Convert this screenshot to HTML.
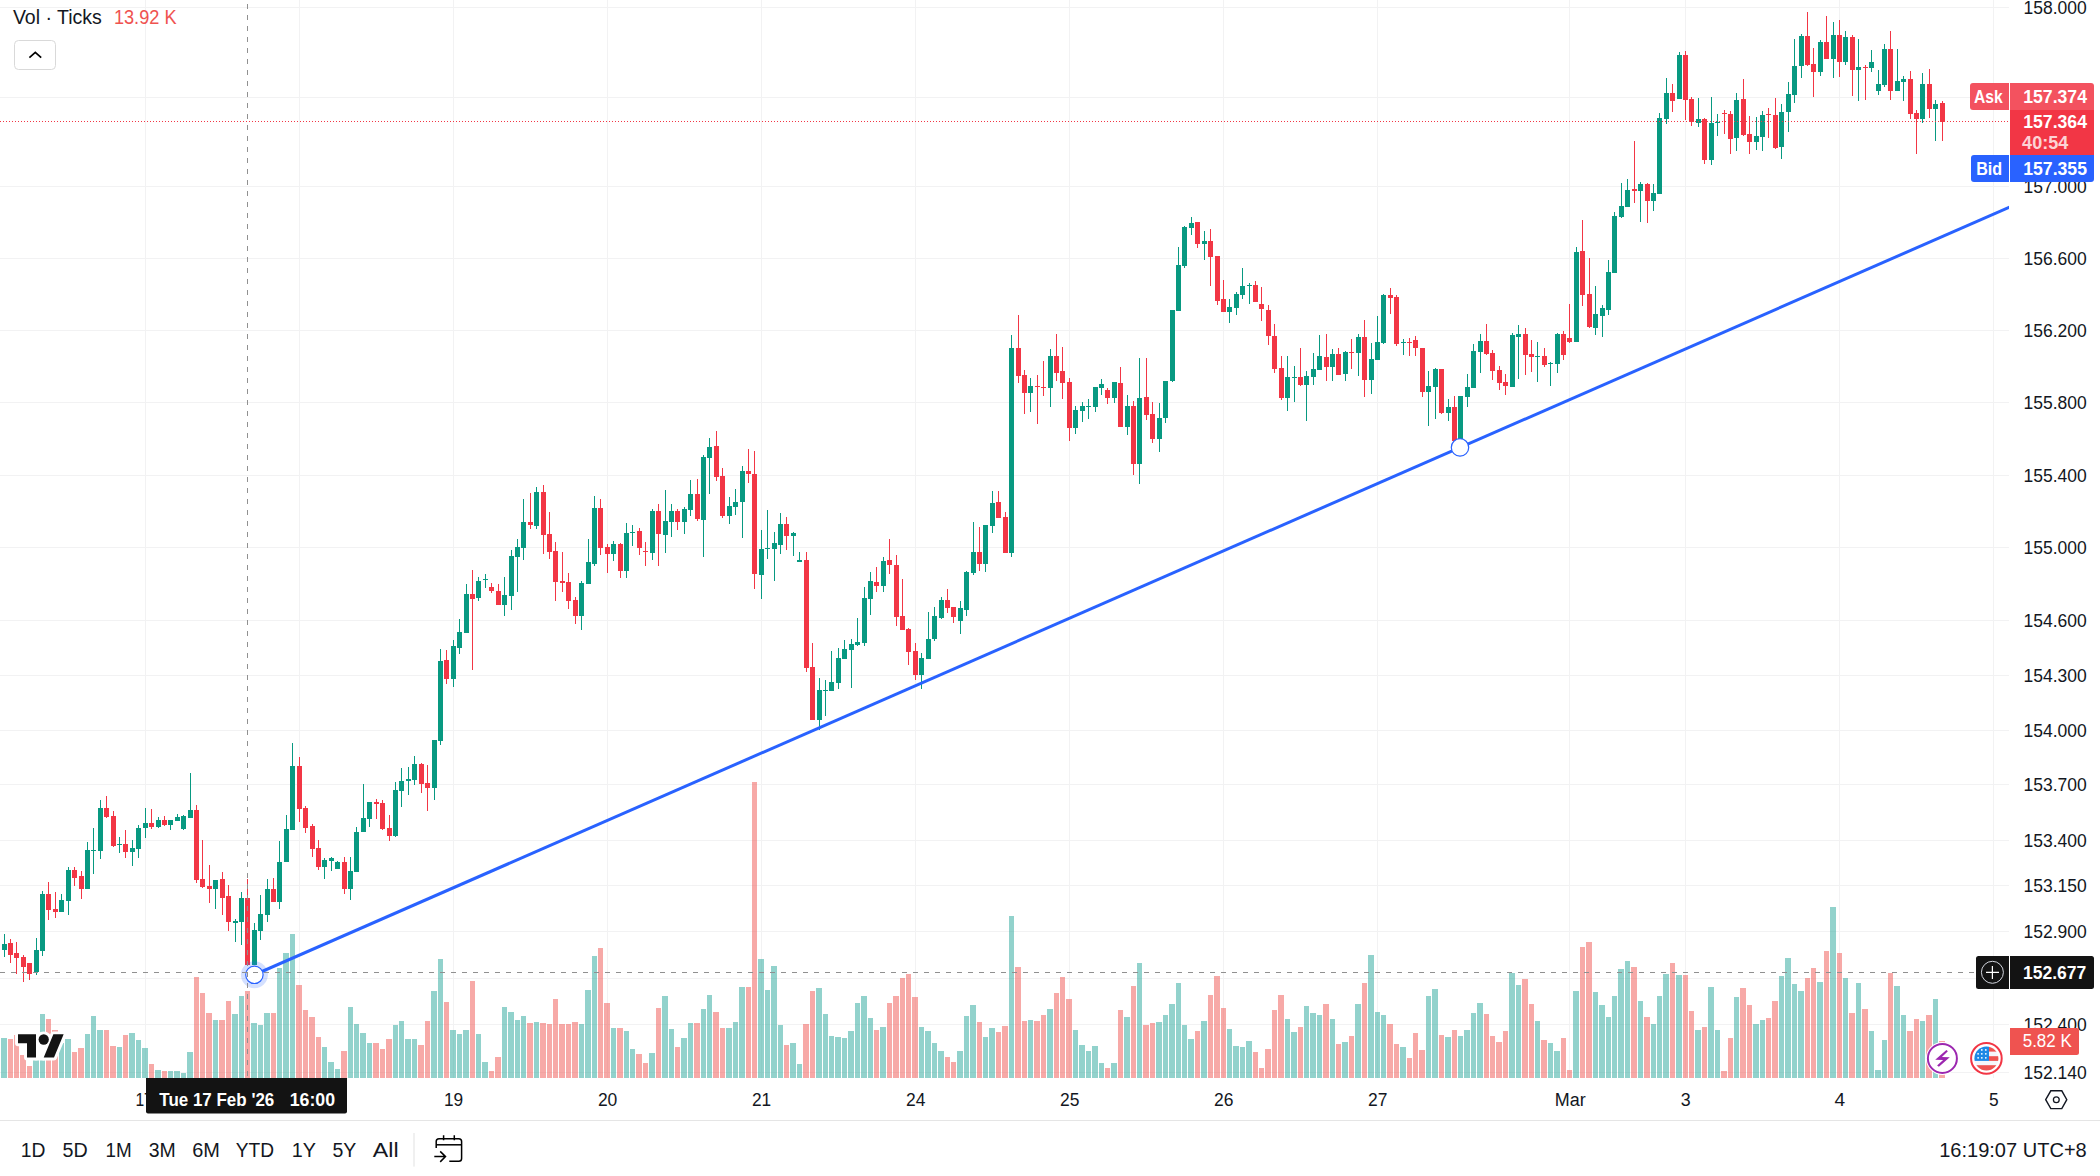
<!DOCTYPE html>
<html><head><meta charset="utf-8"><style>
html,body{margin:0;padding:0;background:#fff;}
body{width:2100px;height:1176px;overflow:hidden;position:relative;font-family:"Liberation Sans",sans-serif;}
</style></head><body>
<svg width="2100" height="1176" viewBox="0 0 2100 1176" style="position:absolute;left:0;top:0">
<g stroke="#f2f2f3" stroke-width="1" shape-rendering="crispEdges">
<line x1="0" y1="7.5" x2="2009" y2="7.5"/>
<line x1="0" y1="97.5" x2="2009" y2="97.5"/>
<line x1="0" y1="186.5" x2="2009" y2="186.5"/>
<line x1="0" y1="258.5" x2="2009" y2="258.5"/>
<line x1="0" y1="330.5" x2="2009" y2="330.5"/>
<line x1="0" y1="402.5" x2="2009" y2="402.5"/>
<line x1="0" y1="475.5" x2="2009" y2="475.5"/>
<line x1="0" y1="547.5" x2="2009" y2="547.5"/>
<line x1="0" y1="620.5" x2="2009" y2="620.5"/>
<line x1="0" y1="675.5" x2="2009" y2="675.5"/>
<line x1="0" y1="730.5" x2="2009" y2="730.5"/>
<line x1="0" y1="784.5" x2="2009" y2="784.5"/>
<line x1="0" y1="840.5" x2="2009" y2="840.5"/>
<line x1="0" y1="885.5" x2="2009" y2="885.5"/>
<line x1="0" y1="931.5" x2="2009" y2="931.5"/>
<line x1="0" y1="978.5" x2="2009" y2="978.5"/>
<line x1="0" y1="1024.5" x2="2009" y2="1024.5"/>
<line x1="0" y1="1072.5" x2="2009" y2="1072.5"/>
<line x1="145.5" y1="0" x2="145.5" y2="1078"/>
<line x1="299.5" y1="0" x2="299.5" y2="1078"/>
<line x1="453.5" y1="0" x2="453.5" y2="1078"/>
<line x1="607.5" y1="0" x2="607.5" y2="1078"/>
<line x1="761.5" y1="0" x2="761.5" y2="1078"/>
<line x1="915.5" y1="0" x2="915.5" y2="1078"/>
<line x1="1069.5" y1="0" x2="1069.5" y2="1078"/>
<line x1="1223.5" y1="0" x2="1223.5" y2="1078"/>
<line x1="1377.5" y1="0" x2="1377.5" y2="1078"/>
<line x1="1569.5" y1="0" x2="1569.5" y2="1078"/>
<line x1="1685.5" y1="0" x2="1685.5" y2="1078"/>
<line x1="1839.5" y1="0" x2="1839.5" y2="1078"/>
<line x1="1993.5" y1="0" x2="1993.5" y2="1078"/>
</g>
<g shape-rendering="crispEdges">
<rect x="1" y="1038" width="6" height="40" fill="rgba(38,166,154,0.5)"/>
<rect x="8" y="1039" width="5" height="39" fill="rgba(239,83,80,0.5)"/>
<rect x="14" y="1035" width="5" height="43" fill="rgba(239,83,80,0.5)"/>
<rect x="20" y="1055" width="6" height="23" fill="rgba(239,83,80,0.5)"/>
<rect x="27" y="1066" width="5" height="12" fill="rgba(239,83,80,0.5)"/>
<rect x="33" y="1060" width="6" height="18" fill="rgba(38,166,154,0.5)"/>
<rect x="40" y="1014" width="5" height="64" fill="rgba(38,166,154,0.5)"/>
<rect x="46" y="1019" width="5" height="59" fill="rgba(239,83,80,0.5)"/>
<rect x="52" y="1030" width="6" height="48" fill="rgba(239,83,80,0.5)"/>
<rect x="59" y="1043" width="5" height="35" fill="rgba(38,166,154,0.5)"/>
<rect x="65" y="1039" width="6" height="39" fill="rgba(38,166,154,0.5)"/>
<rect x="72" y="1052" width="5" height="26" fill="rgba(239,83,80,0.5)"/>
<rect x="78" y="1048" width="6" height="30" fill="rgba(239,83,80,0.5)"/>
<rect x="85" y="1034" width="5" height="44" fill="rgba(38,166,154,0.5)"/>
<rect x="91" y="1016" width="5" height="62" fill="rgba(38,166,154,0.5)"/>
<rect x="97" y="1030" width="6" height="48" fill="rgba(38,166,154,0.5)"/>
<rect x="104" y="1030" width="5" height="48" fill="rgba(239,83,80,0.5)"/>
<rect x="110" y="1046" width="6" height="32" fill="rgba(239,83,80,0.5)"/>
<rect x="117" y="1047" width="5" height="31" fill="rgba(38,166,154,0.5)"/>
<rect x="123" y="1035" width="5" height="43" fill="rgba(239,83,80,0.5)"/>
<rect x="129" y="1033" width="6" height="45" fill="rgba(38,166,154,0.5)"/>
<rect x="136" y="1040" width="5" height="38" fill="rgba(38,166,154,0.5)"/>
<rect x="142" y="1048" width="6" height="30" fill="rgba(38,166,154,0.5)"/>
<rect x="149" y="1064" width="5" height="14" fill="rgba(239,83,80,0.5)"/>
<rect x="155" y="1070" width="6" height="8" fill="rgba(38,166,154,0.5)"/>
<rect x="162" y="1071" width="5" height="7" fill="rgba(239,83,80,0.5)"/>
<rect x="168" y="1071" width="5" height="7" fill="rgba(38,166,154,0.5)"/>
<rect x="174" y="1071" width="6" height="7" fill="rgba(38,166,154,0.5)"/>
<rect x="181" y="1073" width="5" height="5" fill="rgba(38,166,154,0.5)"/>
<rect x="187" y="1052" width="6" height="26" fill="rgba(38,166,154,0.5)"/>
<rect x="194" y="977" width="5" height="101" fill="rgba(239,83,80,0.5)"/>
<rect x="200" y="993" width="5" height="85" fill="rgba(239,83,80,0.5)"/>
<rect x="206" y="1013" width="6" height="65" fill="rgba(239,83,80,0.5)"/>
<rect x="213" y="1020" width="5" height="58" fill="rgba(38,166,154,0.5)"/>
<rect x="219" y="1020" width="6" height="58" fill="rgba(239,83,80,0.5)"/>
<rect x="226" y="1001" width="5" height="77" fill="rgba(239,83,80,0.5)"/>
<rect x="232" y="1014" width="6" height="64" fill="rgba(38,166,154,0.5)"/>
<rect x="239" y="996" width="5" height="82" fill="rgba(38,166,154,0.5)"/>
<rect x="245" y="991" width="5" height="87" fill="rgba(239,83,80,0.5)"/>
<rect x="251" y="1023" width="6" height="55" fill="rgba(38,166,154,0.5)"/>
<rect x="258" y="1025" width="5" height="53" fill="rgba(38,166,154,0.5)"/>
<rect x="264" y="1013" width="6" height="65" fill="rgba(38,166,154,0.5)"/>
<rect x="271" y="1013" width="5" height="65" fill="rgba(239,83,80,0.5)"/>
<rect x="277" y="968" width="5" height="110" fill="rgba(38,166,154,0.5)"/>
<rect x="283" y="953" width="6" height="125" fill="rgba(38,166,154,0.5)"/>
<rect x="290" y="934" width="5" height="144" fill="rgba(38,166,154,0.5)"/>
<rect x="296" y="985" width="6" height="93" fill="rgba(239,83,80,0.5)"/>
<rect x="303" y="1010" width="5" height="68" fill="rgba(239,83,80,0.5)"/>
<rect x="309" y="1017" width="6" height="61" fill="rgba(239,83,80,0.5)"/>
<rect x="316" y="1037" width="5" height="41" fill="rgba(239,83,80,0.5)"/>
<rect x="322" y="1047" width="5" height="31" fill="rgba(38,166,154,0.5)"/>
<rect x="328" y="1062" width="6" height="16" fill="rgba(38,166,154,0.5)"/>
<rect x="335" y="1069" width="5" height="9" fill="rgba(38,166,154,0.5)"/>
<rect x="341" y="1051" width="6" height="27" fill="rgba(239,83,80,0.5)"/>
<rect x="348" y="1007" width="5" height="71" fill="rgba(38,166,154,0.5)"/>
<rect x="354" y="1024" width="5" height="54" fill="rgba(38,166,154,0.5)"/>
<rect x="360" y="1033" width="6" height="45" fill="rgba(38,166,154,0.5)"/>
<rect x="367" y="1043" width="5" height="35" fill="rgba(38,166,154,0.5)"/>
<rect x="373" y="1043" width="6" height="35" fill="rgba(239,83,80,0.5)"/>
<rect x="380" y="1049" width="5" height="29" fill="rgba(239,83,80,0.5)"/>
<rect x="386" y="1039" width="6" height="39" fill="rgba(239,83,80,0.5)"/>
<rect x="393" y="1025" width="5" height="53" fill="rgba(38,166,154,0.5)"/>
<rect x="399" y="1021" width="5" height="57" fill="rgba(38,166,154,0.5)"/>
<rect x="405" y="1039" width="6" height="39" fill="rgba(38,166,154,0.5)"/>
<rect x="412" y="1039" width="5" height="39" fill="rgba(38,166,154,0.5)"/>
<rect x="418" y="1045" width="6" height="33" fill="rgba(239,83,80,0.5)"/>
<rect x="425" y="1021" width="5" height="57" fill="rgba(239,83,80,0.5)"/>
<rect x="431" y="991" width="6" height="87" fill="rgba(38,166,154,0.5)"/>
<rect x="438" y="959" width="5" height="119" fill="rgba(38,166,154,0.5)"/>
<rect x="444" y="1002" width="5" height="76" fill="rgba(239,83,80,0.5)"/>
<rect x="450" y="1030" width="6" height="48" fill="rgba(38,166,154,0.5)"/>
<rect x="457" y="1034" width="5" height="44" fill="rgba(38,166,154,0.5)"/>
<rect x="463" y="1030" width="6" height="48" fill="rgba(38,166,154,0.5)"/>
<rect x="470" y="981" width="5" height="97" fill="rgba(239,83,80,0.5)"/>
<rect x="476" y="1034" width="5" height="44" fill="rgba(38,166,154,0.5)"/>
<rect x="482" y="1062" width="6" height="16" fill="rgba(38,166,154,0.5)"/>
<rect x="489" y="1071" width="5" height="7" fill="rgba(239,83,80,0.5)"/>
<rect x="495" y="1057" width="6" height="21" fill="rgba(239,83,80,0.5)"/>
<rect x="502" y="1007" width="5" height="71" fill="rgba(38,166,154,0.5)"/>
<rect x="508" y="1012" width="6" height="66" fill="rgba(38,166,154,0.5)"/>
<rect x="515" y="1020" width="5" height="58" fill="rgba(38,166,154,0.5)"/>
<rect x="521" y="1016" width="5" height="62" fill="rgba(38,166,154,0.5)"/>
<rect x="527" y="1023" width="6" height="55" fill="rgba(239,83,80,0.5)"/>
<rect x="534" y="1022" width="5" height="56" fill="rgba(38,166,154,0.5)"/>
<rect x="540" y="1023" width="6" height="55" fill="rgba(239,83,80,0.5)"/>
<rect x="547" y="1024" width="5" height="54" fill="rgba(239,83,80,0.5)"/>
<rect x="553" y="999" width="5" height="79" fill="rgba(239,83,80,0.5)"/>
<rect x="559" y="1024" width="6" height="54" fill="rgba(239,83,80,0.5)"/>
<rect x="566" y="1024" width="5" height="54" fill="rgba(239,83,80,0.5)"/>
<rect x="572" y="1022" width="6" height="56" fill="rgba(239,83,80,0.5)"/>
<rect x="579" y="1024" width="5" height="54" fill="rgba(38,166,154,0.5)"/>
<rect x="585" y="990" width="6" height="88" fill="rgba(38,166,154,0.5)"/>
<rect x="592" y="956" width="5" height="122" fill="rgba(38,166,154,0.5)"/>
<rect x="598" y="948" width="5" height="130" fill="rgba(239,83,80,0.5)"/>
<rect x="604" y="1003" width="6" height="75" fill="rgba(239,83,80,0.5)"/>
<rect x="611" y="1028" width="5" height="50" fill="rgba(38,166,154,0.5)"/>
<rect x="617" y="1028" width="6" height="50" fill="rgba(239,83,80,0.5)"/>
<rect x="624" y="1031" width="5" height="47" fill="rgba(38,166,154,0.5)"/>
<rect x="630" y="1049" width="5" height="29" fill="rgba(38,166,154,0.5)"/>
<rect x="636" y="1054" width="6" height="24" fill="rgba(239,83,80,0.5)"/>
<rect x="643" y="1063" width="5" height="15" fill="rgba(239,83,80,0.5)"/>
<rect x="649" y="1053" width="6" height="25" fill="rgba(38,166,154,0.5)"/>
<rect x="656" y="1008" width="5" height="70" fill="rgba(239,83,80,0.5)"/>
<rect x="662" y="996" width="6" height="82" fill="rgba(38,166,154,0.5)"/>
<rect x="669" y="1029" width="5" height="49" fill="rgba(38,166,154,0.5)"/>
<rect x="675" y="1047" width="5" height="31" fill="rgba(239,83,80,0.5)"/>
<rect x="681" y="1038" width="6" height="40" fill="rgba(38,166,154,0.5)"/>
<rect x="688" y="1023" width="5" height="55" fill="rgba(38,166,154,0.5)"/>
<rect x="694" y="1023" width="6" height="55" fill="rgba(239,83,80,0.5)"/>
<rect x="701" y="1009" width="5" height="69" fill="rgba(38,166,154,0.5)"/>
<rect x="707" y="995" width="5" height="83" fill="rgba(38,166,154,0.5)"/>
<rect x="713" y="1012" width="6" height="66" fill="rgba(239,83,80,0.5)"/>
<rect x="720" y="1028" width="5" height="50" fill="rgba(239,83,80,0.5)"/>
<rect x="726" y="1028" width="6" height="50" fill="rgba(38,166,154,0.5)"/>
<rect x="733" y="1022" width="5" height="56" fill="rgba(38,166,154,0.5)"/>
<rect x="739" y="987" width="6" height="91" fill="rgba(38,166,154,0.5)"/>
<rect x="746" y="987" width="5" height="91" fill="rgba(239,83,80,0.5)"/>
<rect x="752" y="782" width="5" height="296" fill="rgba(239,83,80,0.5)"/>
<rect x="758" y="959" width="6" height="119" fill="rgba(38,166,154,0.5)"/>
<rect x="765" y="990" width="5" height="88" fill="rgba(38,166,154,0.5)"/>
<rect x="771" y="966" width="6" height="112" fill="rgba(38,166,154,0.5)"/>
<rect x="778" y="1025" width="5" height="53" fill="rgba(38,166,154,0.5)"/>
<rect x="784" y="1045" width="5" height="33" fill="rgba(239,83,80,0.5)"/>
<rect x="790" y="1043" width="6" height="35" fill="rgba(38,166,154,0.5)"/>
<rect x="797" y="1064" width="5" height="14" fill="rgba(38,166,154,0.5)"/>
<rect x="803" y="1024" width="6" height="54" fill="rgba(239,83,80,0.5)"/>
<rect x="810" y="991" width="5" height="87" fill="rgba(239,83,80,0.5)"/>
<rect x="816" y="988" width="6" height="90" fill="rgba(38,166,154,0.5)"/>
<rect x="823" y="1014" width="5" height="64" fill="rgba(38,166,154,0.5)"/>
<rect x="829" y="1036" width="5" height="42" fill="rgba(38,166,154,0.5)"/>
<rect x="835" y="1037" width="6" height="41" fill="rgba(38,166,154,0.5)"/>
<rect x="842" y="1038" width="5" height="40" fill="rgba(38,166,154,0.5)"/>
<rect x="848" y="1031" width="6" height="47" fill="rgba(38,166,154,0.5)"/>
<rect x="855" y="1003" width="5" height="75" fill="rgba(38,166,154,0.5)"/>
<rect x="861" y="996" width="6" height="82" fill="rgba(38,166,154,0.5)"/>
<rect x="868" y="1018" width="5" height="60" fill="rgba(38,166,154,0.5)"/>
<rect x="874" y="1030" width="5" height="48" fill="rgba(239,83,80,0.5)"/>
<rect x="880" y="1027" width="6" height="51" fill="rgba(38,166,154,0.5)"/>
<rect x="887" y="1003" width="5" height="75" fill="rgba(239,83,80,0.5)"/>
<rect x="893" y="996" width="6" height="82" fill="rgba(239,83,80,0.5)"/>
<rect x="900" y="978" width="5" height="100" fill="rgba(239,83,80,0.5)"/>
<rect x="906" y="974" width="5" height="104" fill="rgba(239,83,80,0.5)"/>
<rect x="912" y="997" width="6" height="81" fill="rgba(239,83,80,0.5)"/>
<rect x="919" y="1027" width="5" height="51" fill="rgba(38,166,154,0.5)"/>
<rect x="925" y="1031" width="6" height="47" fill="rgba(38,166,154,0.5)"/>
<rect x="932" y="1043" width="5" height="35" fill="rgba(38,166,154,0.5)"/>
<rect x="938" y="1051" width="6" height="27" fill="rgba(38,166,154,0.5)"/>
<rect x="945" y="1057" width="5" height="21" fill="rgba(239,83,80,0.5)"/>
<rect x="951" y="1062" width="5" height="16" fill="rgba(239,83,80,0.5)"/>
<rect x="957" y="1051" width="6" height="27" fill="rgba(38,166,154,0.5)"/>
<rect x="964" y="1016" width="5" height="62" fill="rgba(38,166,154,0.5)"/>
<rect x="970" y="1005" width="6" height="73" fill="rgba(38,166,154,0.5)"/>
<rect x="977" y="1022" width="5" height="56" fill="rgba(239,83,80,0.5)"/>
<rect x="983" y="1037" width="5" height="41" fill="rgba(38,166,154,0.5)"/>
<rect x="989" y="1028" width="6" height="50" fill="rgba(38,166,154,0.5)"/>
<rect x="996" y="1032" width="5" height="46" fill="rgba(239,83,80,0.5)"/>
<rect x="1002" y="1026" width="6" height="52" fill="rgba(239,83,80,0.5)"/>
<rect x="1009" y="916" width="5" height="162" fill="rgba(38,166,154,0.5)"/>
<rect x="1015" y="967" width="6" height="111" fill="rgba(239,83,80,0.5)"/>
<rect x="1022" y="1021" width="5" height="57" fill="rgba(239,83,80,0.5)"/>
<rect x="1028" y="1020" width="5" height="58" fill="rgba(38,166,154,0.5)"/>
<rect x="1034" y="1021" width="6" height="57" fill="rgba(239,83,80,0.5)"/>
<rect x="1041" y="1015" width="5" height="63" fill="rgba(239,83,80,0.5)"/>
<rect x="1047" y="1009" width="6" height="69" fill="rgba(38,166,154,0.5)"/>
<rect x="1054" y="993" width="5" height="85" fill="rgba(239,83,80,0.5)"/>
<rect x="1060" y="977" width="5" height="101" fill="rgba(239,83,80,0.5)"/>
<rect x="1066" y="999" width="6" height="79" fill="rgba(239,83,80,0.5)"/>
<rect x="1073" y="1030" width="5" height="48" fill="rgba(38,166,154,0.5)"/>
<rect x="1079" y="1045" width="6" height="33" fill="rgba(38,166,154,0.5)"/>
<rect x="1086" y="1051" width="5" height="27" fill="rgba(38,166,154,0.5)"/>
<rect x="1092" y="1046" width="6" height="32" fill="rgba(38,166,154,0.5)"/>
<rect x="1099" y="1063" width="5" height="15" fill="rgba(38,166,154,0.5)"/>
<rect x="1105" y="1068" width="5" height="10" fill="rgba(239,83,80,0.5)"/>
<rect x="1111" y="1063" width="6" height="15" fill="rgba(38,166,154,0.5)"/>
<rect x="1118" y="1010" width="5" height="68" fill="rgba(239,83,80,0.5)"/>
<rect x="1124" y="1017" width="6" height="61" fill="rgba(38,166,154,0.5)"/>
<rect x="1131" y="986" width="5" height="92" fill="rgba(239,83,80,0.5)"/>
<rect x="1137" y="963" width="5" height="115" fill="rgba(38,166,154,0.5)"/>
<rect x="1143" y="1025" width="6" height="53" fill="rgba(239,83,80,0.5)"/>
<rect x="1150" y="1023" width="5" height="55" fill="rgba(239,83,80,0.5)"/>
<rect x="1156" y="1022" width="6" height="56" fill="rgba(38,166,154,0.5)"/>
<rect x="1163" y="1015" width="5" height="63" fill="rgba(38,166,154,0.5)"/>
<rect x="1169" y="1004" width="6" height="74" fill="rgba(38,166,154,0.5)"/>
<rect x="1176" y="983" width="5" height="95" fill="rgba(38,166,154,0.5)"/>
<rect x="1182" y="1025" width="5" height="53" fill="rgba(38,166,154,0.5)"/>
<rect x="1188" y="1039" width="6" height="39" fill="rgba(38,166,154,0.5)"/>
<rect x="1195" y="1031" width="5" height="47" fill="rgba(239,83,80,0.5)"/>
<rect x="1201" y="1021" width="6" height="57" fill="rgba(38,166,154,0.5)"/>
<rect x="1208" y="995" width="5" height="83" fill="rgba(239,83,80,0.5)"/>
<rect x="1214" y="976" width="6" height="102" fill="rgba(239,83,80,0.5)"/>
<rect x="1221" y="1008" width="5" height="70" fill="rgba(239,83,80,0.5)"/>
<rect x="1227" y="1029" width="5" height="49" fill="rgba(38,166,154,0.5)"/>
<rect x="1233" y="1046" width="6" height="32" fill="rgba(38,166,154,0.5)"/>
<rect x="1240" y="1047" width="5" height="31" fill="rgba(38,166,154,0.5)"/>
<rect x="1246" y="1041" width="6" height="37" fill="rgba(38,166,154,0.5)"/>
<rect x="1253" y="1052" width="5" height="26" fill="rgba(239,83,80,0.5)"/>
<rect x="1259" y="1068" width="5" height="10" fill="rgba(239,83,80,0.5)"/>
<rect x="1265" y="1049" width="6" height="29" fill="rgba(239,83,80,0.5)"/>
<rect x="1272" y="1010" width="5" height="68" fill="rgba(239,83,80,0.5)"/>
<rect x="1278" y="995" width="6" height="83" fill="rgba(239,83,80,0.5)"/>
<rect x="1285" y="1019" width="5" height="59" fill="rgba(38,166,154,0.5)"/>
<rect x="1291" y="1032" width="6" height="46" fill="rgba(38,166,154,0.5)"/>
<rect x="1298" y="1027" width="5" height="51" fill="rgba(239,83,80,0.5)"/>
<rect x="1304" y="1006" width="5" height="72" fill="rgba(38,166,154,0.5)"/>
<rect x="1310" y="1013" width="6" height="65" fill="rgba(38,166,154,0.5)"/>
<rect x="1317" y="1015" width="5" height="63" fill="rgba(38,166,154,0.5)"/>
<rect x="1323" y="1004" width="6" height="74" fill="rgba(239,83,80,0.5)"/>
<rect x="1330" y="1019" width="5" height="59" fill="rgba(38,166,154,0.5)"/>
<rect x="1336" y="1044" width="5" height="34" fill="rgba(239,83,80,0.5)"/>
<rect x="1342" y="1042" width="6" height="36" fill="rgba(38,166,154,0.5)"/>
<rect x="1349" y="1036" width="5" height="42" fill="rgba(239,83,80,0.5)"/>
<rect x="1355" y="1004" width="6" height="74" fill="rgba(38,166,154,0.5)"/>
<rect x="1362" y="983" width="5" height="95" fill="rgba(239,83,80,0.5)"/>
<rect x="1368" y="955" width="6" height="123" fill="rgba(38,166,154,0.5)"/>
<rect x="1375" y="1012" width="5" height="66" fill="rgba(38,166,154,0.5)"/>
<rect x="1381" y="1015" width="5" height="63" fill="rgba(38,166,154,0.5)"/>
<rect x="1387" y="1024" width="6" height="54" fill="rgba(239,83,80,0.5)"/>
<rect x="1394" y="1044" width="5" height="34" fill="rgba(239,83,80,0.5)"/>
<rect x="1400" y="1047" width="6" height="31" fill="rgba(38,166,154,0.5)"/>
<rect x="1407" y="1058" width="5" height="20" fill="rgba(239,83,80,0.5)"/>
<rect x="1413" y="1033" width="5" height="45" fill="rgba(239,83,80,0.5)"/>
<rect x="1419" y="1050" width="6" height="28" fill="rgba(239,83,80,0.5)"/>
<rect x="1426" y="996" width="5" height="82" fill="rgba(38,166,154,0.5)"/>
<rect x="1432" y="989" width="6" height="89" fill="rgba(38,166,154,0.5)"/>
<rect x="1439" y="1035" width="5" height="43" fill="rgba(239,83,80,0.5)"/>
<rect x="1445" y="1037" width="6" height="41" fill="rgba(38,166,154,0.5)"/>
<rect x="1452" y="1030" width="5" height="48" fill="rgba(239,83,80,0.5)"/>
<rect x="1458" y="1036" width="5" height="42" fill="rgba(38,166,154,0.5)"/>
<rect x="1464" y="1030" width="6" height="48" fill="rgba(38,166,154,0.5)"/>
<rect x="1471" y="1013" width="5" height="65" fill="rgba(38,166,154,0.5)"/>
<rect x="1477" y="1003" width="6" height="75" fill="rgba(38,166,154,0.5)"/>
<rect x="1484" y="1014" width="5" height="64" fill="rgba(239,83,80,0.5)"/>
<rect x="1490" y="1036" width="5" height="42" fill="rgba(239,83,80,0.5)"/>
<rect x="1496" y="1042" width="6" height="36" fill="rgba(239,83,80,0.5)"/>
<rect x="1503" y="1031" width="5" height="47" fill="rgba(239,83,80,0.5)"/>
<rect x="1509" y="973" width="6" height="105" fill="rgba(38,166,154,0.5)"/>
<rect x="1516" y="985" width="5" height="93" fill="rgba(38,166,154,0.5)"/>
<rect x="1522" y="979" width="6" height="99" fill="rgba(239,83,80,0.5)"/>
<rect x="1529" y="1004" width="5" height="74" fill="rgba(239,83,80,0.5)"/>
<rect x="1535" y="1021" width="5" height="57" fill="rgba(38,166,154,0.5)"/>
<rect x="1541" y="1040" width="6" height="38" fill="rgba(239,83,80,0.5)"/>
<rect x="1548" y="1043" width="5" height="35" fill="rgba(38,166,154,0.5)"/>
<rect x="1554" y="1051" width="6" height="27" fill="rgba(38,166,154,0.5)"/>
<rect x="1561" y="1038" width="5" height="40" fill="rgba(239,83,80,0.5)"/>
<rect x="1567" y="1070" width="5" height="8" fill="rgba(239,83,80,0.5)"/>
<rect x="1573" y="991" width="6" height="87" fill="rgba(38,166,154,0.5)"/>
<rect x="1580" y="947" width="5" height="131" fill="rgba(239,83,80,0.5)"/>
<rect x="1586" y="942" width="6" height="136" fill="rgba(239,83,80,0.5)"/>
<rect x="1593" y="992" width="5" height="86" fill="rgba(38,166,154,0.5)"/>
<rect x="1599" y="1005" width="6" height="73" fill="rgba(38,166,154,0.5)"/>
<rect x="1606" y="1017" width="5" height="61" fill="rgba(38,166,154,0.5)"/>
<rect x="1612" y="996" width="5" height="82" fill="rgba(38,166,154,0.5)"/>
<rect x="1618" y="969" width="6" height="109" fill="rgba(38,166,154,0.5)"/>
<rect x="1625" y="961" width="5" height="117" fill="rgba(38,166,154,0.5)"/>
<rect x="1631" y="967" width="6" height="111" fill="rgba(239,83,80,0.5)"/>
<rect x="1638" y="1001" width="5" height="77" fill="rgba(38,166,154,0.5)"/>
<rect x="1644" y="1017" width="6" height="61" fill="rgba(239,83,80,0.5)"/>
<rect x="1651" y="1024" width="5" height="54" fill="rgba(38,166,154,0.5)"/>
<rect x="1657" y="996" width="5" height="82" fill="rgba(38,166,154,0.5)"/>
<rect x="1663" y="974" width="6" height="104" fill="rgba(38,166,154,0.5)"/>
<rect x="1670" y="963" width="5" height="115" fill="rgba(239,83,80,0.5)"/>
<rect x="1676" y="975" width="6" height="103" fill="rgba(38,166,154,0.5)"/>
<rect x="1683" y="975" width="5" height="103" fill="rgba(239,83,80,0.5)"/>
<rect x="1689" y="1011" width="5" height="67" fill="rgba(239,83,80,0.5)"/>
<rect x="1695" y="1030" width="6" height="48" fill="rgba(38,166,154,0.5)"/>
<rect x="1702" y="1027" width="5" height="51" fill="rgba(239,83,80,0.5)"/>
<rect x="1708" y="987" width="6" height="91" fill="rgba(38,166,154,0.5)"/>
<rect x="1715" y="1030" width="5" height="48" fill="rgba(38,166,154,0.5)"/>
<rect x="1721" y="1071" width="6" height="7" fill="rgba(239,83,80,0.5)"/>
<rect x="1728" y="1038" width="5" height="40" fill="rgba(239,83,80,0.5)"/>
<rect x="1734" y="997" width="5" height="81" fill="rgba(38,166,154,0.5)"/>
<rect x="1740" y="988" width="6" height="90" fill="rgba(239,83,80,0.5)"/>
<rect x="1747" y="1005" width="5" height="73" fill="rgba(239,83,80,0.5)"/>
<rect x="1753" y="1024" width="6" height="54" fill="rgba(38,166,154,0.5)"/>
<rect x="1760" y="1020" width="5" height="58" fill="rgba(38,166,154,0.5)"/>
<rect x="1766" y="1018" width="5" height="60" fill="rgba(239,83,80,0.5)"/>
<rect x="1772" y="1001" width="6" height="77" fill="rgba(239,83,80,0.5)"/>
<rect x="1779" y="976" width="5" height="102" fill="rgba(38,166,154,0.5)"/>
<rect x="1785" y="958" width="6" height="120" fill="rgba(38,166,154,0.5)"/>
<rect x="1792" y="984" width="5" height="94" fill="rgba(38,166,154,0.5)"/>
<rect x="1798" y="991" width="6" height="87" fill="rgba(38,166,154,0.5)"/>
<rect x="1805" y="978" width="5" height="100" fill="rgba(239,83,80,0.5)"/>
<rect x="1811" y="968" width="5" height="110" fill="rgba(239,83,80,0.5)"/>
<rect x="1817" y="982" width="6" height="96" fill="rgba(38,166,154,0.5)"/>
<rect x="1824" y="951" width="5" height="127" fill="rgba(239,83,80,0.5)"/>
<rect x="1830" y="907" width="6" height="171" fill="rgba(38,166,154,0.5)"/>
<rect x="1837" y="953" width="5" height="125" fill="rgba(239,83,80,0.5)"/>
<rect x="1843" y="978" width="5" height="100" fill="rgba(38,166,154,0.5)"/>
<rect x="1849" y="1013" width="6" height="65" fill="rgba(239,83,80,0.5)"/>
<rect x="1856" y="983" width="5" height="95" fill="rgba(38,166,154,0.5)"/>
<rect x="1862" y="1009" width="6" height="69" fill="rgba(239,83,80,0.5)"/>
<rect x="1869" y="1031" width="5" height="47" fill="rgba(38,166,154,0.5)"/>
<rect x="1875" y="1070" width="6" height="8" fill="rgba(38,166,154,0.5)"/>
<rect x="1882" y="1040" width="5" height="38" fill="rgba(38,166,154,0.5)"/>
<rect x="1888" y="973" width="5" height="105" fill="rgba(239,83,80,0.5)"/>
<rect x="1894" y="986" width="6" height="92" fill="rgba(38,166,154,0.5)"/>
<rect x="1901" y="1015" width="5" height="63" fill="rgba(38,166,154,0.5)"/>
<rect x="1907" y="1031" width="6" height="47" fill="rgba(239,83,80,0.5)"/>
<rect x="1914" y="1019" width="5" height="59" fill="rgba(239,83,80,0.5)"/>
<rect x="1920" y="1021" width="5" height="57" fill="rgba(38,166,154,0.5)"/>
<rect x="1926" y="1015" width="6" height="63" fill="rgba(239,83,80,0.5)"/>
<rect x="1933" y="999" width="5" height="79" fill="rgba(38,166,154,0.5)"/>
<rect x="1939" y="1041" width="6" height="37" fill="rgba(239,83,80,0.5)"/>
</g>
<g shape-rendering="crispEdges">
<rect x="4" y="934" width="1" height="10" fill="#089981"/>
<rect x="4" y="950" width="1" height="7" fill="#089981"/>
<rect x="2" y="944" width="5" height="6" fill="#089981"/>
<rect x="10" y="939" width="1" height="4" fill="#f23645"/>
<rect x="10" y="955" width="1" height="8" fill="#f23645"/>
<rect x="8" y="943" width="5" height="12" fill="#f23645"/>
<rect x="16" y="942" width="1" height="11" fill="#f23645"/>
<rect x="16" y="958" width="1" height="16" fill="#f23645"/>
<rect x="14" y="953" width="5" height="5" fill="#f23645"/>
<rect x="23" y="955" width="1" height="2" fill="#f23645"/>
<rect x="23" y="967" width="1" height="15" fill="#f23645"/>
<rect x="21" y="957" width="5" height="10" fill="#f23645"/>
<rect x="29" y="974" width="1" height="6" fill="#f23645"/>
<rect x="27" y="963" width="5" height="11" fill="#f23645"/>
<rect x="36" y="938" width="1" height="12" fill="#089981"/>
<rect x="36" y="972" width="1" height="3" fill="#089981"/>
<rect x="34" y="950" width="5" height="22" fill="#089981"/>
<rect x="42" y="891" width="1" height="3" fill="#089981"/>
<rect x="42" y="951" width="1" height="5" fill="#089981"/>
<rect x="40" y="894" width="5" height="57" fill="#089981"/>
<rect x="48" y="882" width="1" height="12" fill="#f23645"/>
<rect x="48" y="910" width="1" height="10" fill="#f23645"/>
<rect x="46" y="894" width="5" height="16" fill="#f23645"/>
<rect x="55" y="892" width="1" height="17" fill="#f23645"/>
<rect x="55" y="912" width="1" height="6" fill="#f23645"/>
<rect x="53" y="909" width="5" height="3" fill="#f23645"/>
<rect x="61" y="894" width="1" height="6" fill="#089981"/>
<rect x="59" y="900" width="5" height="12" fill="#089981"/>
<rect x="68" y="867" width="1" height="3" fill="#089981"/>
<rect x="68" y="901" width="1" height="14" fill="#089981"/>
<rect x="66" y="870" width="5" height="31" fill="#089981"/>
<rect x="74" y="867" width="1" height="3" fill="#f23645"/>
<rect x="74" y="878" width="1" height="8" fill="#f23645"/>
<rect x="72" y="870" width="5" height="8" fill="#f23645"/>
<rect x="81" y="871" width="1" height="5" fill="#f23645"/>
<rect x="81" y="889" width="1" height="10" fill="#f23645"/>
<rect x="79" y="876" width="5" height="13" fill="#f23645"/>
<rect x="87" y="842" width="1" height="8" fill="#089981"/>
<rect x="85" y="850" width="5" height="39" fill="#089981"/>
<rect x="93" y="828" width="1" height="22" fill="#089981"/>
<rect x="93" y="851" width="1" height="23" fill="#089981"/>
<rect x="91" y="850" width="5" height="1" fill="#089981"/>
<rect x="100" y="800" width="1" height="8" fill="#089981"/>
<rect x="100" y="851" width="1" height="8" fill="#089981"/>
<rect x="98" y="808" width="5" height="43" fill="#089981"/>
<rect x="106" y="796" width="1" height="12" fill="#f23645"/>
<rect x="106" y="817" width="1" height="1" fill="#f23645"/>
<rect x="104" y="808" width="5" height="9" fill="#f23645"/>
<rect x="113" y="811" width="1" height="5" fill="#f23645"/>
<rect x="113" y="846" width="1" height="1" fill="#f23645"/>
<rect x="111" y="816" width="5" height="30" fill="#f23645"/>
<rect x="119" y="837" width="1" height="7" fill="#089981"/>
<rect x="119" y="845" width="1" height="8" fill="#089981"/>
<rect x="117" y="844" width="5" height="1" fill="#089981"/>
<rect x="125" y="830" width="1" height="14" fill="#f23645"/>
<rect x="125" y="852" width="1" height="6" fill="#f23645"/>
<rect x="123" y="844" width="5" height="8" fill="#f23645"/>
<rect x="132" y="840" width="1" height="8" fill="#089981"/>
<rect x="132" y="852" width="1" height="14" fill="#089981"/>
<rect x="130" y="848" width="5" height="4" fill="#089981"/>
<rect x="138" y="825" width="1" height="3" fill="#089981"/>
<rect x="138" y="849" width="1" height="9" fill="#089981"/>
<rect x="136" y="828" width="5" height="21" fill="#089981"/>
<rect x="145" y="808" width="1" height="15" fill="#089981"/>
<rect x="145" y="828" width="1" height="10" fill="#089981"/>
<rect x="143" y="823" width="5" height="5" fill="#089981"/>
<rect x="151" y="809" width="1" height="14" fill="#f23645"/>
<rect x="151" y="827" width="1" height="2" fill="#f23645"/>
<rect x="149" y="823" width="5" height="4" fill="#f23645"/>
<rect x="158" y="817" width="1" height="3" fill="#089981"/>
<rect x="158" y="827" width="1" height="1" fill="#089981"/>
<rect x="156" y="820" width="5" height="7" fill="#089981"/>
<rect x="164" y="816" width="1" height="4" fill="#f23645"/>
<rect x="164" y="825" width="1" height="1" fill="#f23645"/>
<rect x="162" y="820" width="5" height="5" fill="#f23645"/>
<rect x="170" y="825" width="1" height="5" fill="#089981"/>
<rect x="168" y="820" width="5" height="5" fill="#089981"/>
<rect x="177" y="814" width="1" height="3" fill="#089981"/>
<rect x="175" y="817" width="5" height="4" fill="#089981"/>
<rect x="183" y="815" width="1" height="1" fill="#089981"/>
<rect x="183" y="829" width="1" height="1" fill="#089981"/>
<rect x="181" y="816" width="5" height="13" fill="#089981"/>
<rect x="190" y="773" width="1" height="37" fill="#089981"/>
<rect x="188" y="810" width="5" height="8" fill="#089981"/>
<rect x="196" y="805" width="1" height="5" fill="#f23645"/>
<rect x="196" y="880" width="1" height="3" fill="#f23645"/>
<rect x="194" y="810" width="5" height="70" fill="#f23645"/>
<rect x="202" y="840" width="1" height="39" fill="#f23645"/>
<rect x="202" y="887" width="1" height="1" fill="#f23645"/>
<rect x="200" y="879" width="5" height="8" fill="#f23645"/>
<rect x="209" y="865" width="1" height="21" fill="#f23645"/>
<rect x="209" y="889" width="1" height="14" fill="#f23645"/>
<rect x="207" y="886" width="5" height="3" fill="#f23645"/>
<rect x="215" y="889" width="1" height="20" fill="#089981"/>
<rect x="213" y="880" width="5" height="9" fill="#089981"/>
<rect x="222" y="872" width="1" height="7" fill="#f23645"/>
<rect x="222" y="898" width="1" height="17" fill="#f23645"/>
<rect x="220" y="879" width="5" height="19" fill="#f23645"/>
<rect x="228" y="885" width="1" height="11" fill="#f23645"/>
<rect x="228" y="922" width="1" height="9" fill="#f23645"/>
<rect x="226" y="896" width="5" height="26" fill="#f23645"/>
<rect x="235" y="919" width="1" height="2" fill="#089981"/>
<rect x="235" y="923" width="1" height="19" fill="#089981"/>
<rect x="233" y="921" width="5" height="2" fill="#089981"/>
<rect x="241" y="892" width="1" height="6" fill="#089981"/>
<rect x="241" y="922" width="1" height="23" fill="#089981"/>
<rect x="239" y="898" width="5" height="24" fill="#089981"/>
<rect x="247" y="879" width="1" height="19" fill="#f23645"/>
<rect x="245" y="898" width="5" height="67" fill="#f23645"/>
<rect x="254" y="923" width="1" height="7" fill="#089981"/>
<rect x="252" y="930" width="5" height="35" fill="#089981"/>
<rect x="260" y="895" width="1" height="19" fill="#089981"/>
<rect x="260" y="931" width="1" height="9" fill="#089981"/>
<rect x="258" y="914" width="5" height="17" fill="#089981"/>
<rect x="267" y="879" width="1" height="10" fill="#089981"/>
<rect x="267" y="915" width="1" height="7" fill="#089981"/>
<rect x="265" y="889" width="5" height="26" fill="#089981"/>
<rect x="273" y="878" width="1" height="11" fill="#f23645"/>
<rect x="271" y="889" width="5" height="13" fill="#f23645"/>
<rect x="279" y="841" width="1" height="21" fill="#089981"/>
<rect x="279" y="902" width="1" height="7" fill="#089981"/>
<rect x="277" y="862" width="5" height="40" fill="#089981"/>
<rect x="286" y="815" width="1" height="14" fill="#089981"/>
<rect x="284" y="829" width="5" height="33" fill="#089981"/>
<rect x="292" y="743" width="1" height="23" fill="#089981"/>
<rect x="290" y="766" width="5" height="64" fill="#089981"/>
<rect x="299" y="757" width="1" height="9" fill="#f23645"/>
<rect x="299" y="809" width="1" height="13" fill="#f23645"/>
<rect x="297" y="766" width="5" height="43" fill="#f23645"/>
<rect x="305" y="806" width="1" height="2" fill="#f23645"/>
<rect x="305" y="828" width="1" height="5" fill="#f23645"/>
<rect x="303" y="808" width="5" height="20" fill="#f23645"/>
<rect x="312" y="824" width="1" height="2" fill="#f23645"/>
<rect x="312" y="849" width="1" height="8" fill="#f23645"/>
<rect x="310" y="826" width="5" height="23" fill="#f23645"/>
<rect x="318" y="840" width="1" height="8" fill="#f23645"/>
<rect x="318" y="867" width="1" height="3" fill="#f23645"/>
<rect x="316" y="848" width="5" height="19" fill="#f23645"/>
<rect x="324" y="858" width="1" height="2" fill="#089981"/>
<rect x="324" y="867" width="1" height="12" fill="#089981"/>
<rect x="322" y="860" width="5" height="7" fill="#089981"/>
<rect x="331" y="857" width="1" height="1" fill="#089981"/>
<rect x="331" y="861" width="1" height="10" fill="#089981"/>
<rect x="329" y="858" width="5" height="3" fill="#089981"/>
<rect x="337" y="861" width="1" height="1" fill="#089981"/>
<rect x="335" y="862" width="5" height="7" fill="#089981"/>
<rect x="344" y="857" width="1" height="5" fill="#f23645"/>
<rect x="344" y="889" width="1" height="5" fill="#f23645"/>
<rect x="342" y="862" width="5" height="27" fill="#f23645"/>
<rect x="350" y="857" width="1" height="14" fill="#089981"/>
<rect x="350" y="889" width="1" height="11" fill="#089981"/>
<rect x="348" y="871" width="5" height="18" fill="#089981"/>
<rect x="356" y="827" width="1" height="5" fill="#089981"/>
<rect x="354" y="832" width="5" height="40" fill="#089981"/>
<rect x="363" y="784" width="1" height="34" fill="#089981"/>
<rect x="361" y="818" width="5" height="14" fill="#089981"/>
<rect x="369" y="819" width="1" height="8" fill="#089981"/>
<rect x="367" y="802" width="5" height="17" fill="#089981"/>
<rect x="376" y="799" width="1" height="3" fill="#f23645"/>
<rect x="376" y="804" width="1" height="15" fill="#f23645"/>
<rect x="374" y="802" width="5" height="2" fill="#f23645"/>
<rect x="382" y="800" width="1" height="3" fill="#f23645"/>
<rect x="382" y="829" width="1" height="1" fill="#f23645"/>
<rect x="380" y="803" width="5" height="26" fill="#f23645"/>
<rect x="389" y="815" width="1" height="13" fill="#f23645"/>
<rect x="389" y="836" width="1" height="5" fill="#f23645"/>
<rect x="387" y="828" width="5" height="8" fill="#f23645"/>
<rect x="395" y="782" width="1" height="8" fill="#089981"/>
<rect x="395" y="836" width="1" height="1" fill="#089981"/>
<rect x="393" y="790" width="5" height="46" fill="#089981"/>
<rect x="401" y="768" width="1" height="13" fill="#089981"/>
<rect x="401" y="791" width="1" height="16" fill="#089981"/>
<rect x="399" y="781" width="5" height="10" fill="#089981"/>
<rect x="408" y="767" width="1" height="12" fill="#089981"/>
<rect x="408" y="781" width="1" height="14" fill="#089981"/>
<rect x="406" y="779" width="5" height="2" fill="#089981"/>
<rect x="414" y="756" width="1" height="8" fill="#089981"/>
<rect x="414" y="780" width="1" height="5" fill="#089981"/>
<rect x="412" y="764" width="5" height="16" fill="#089981"/>
<rect x="421" y="763" width="1" height="1" fill="#f23645"/>
<rect x="421" y="784" width="1" height="9" fill="#f23645"/>
<rect x="419" y="764" width="5" height="20" fill="#f23645"/>
<rect x="427" y="765" width="1" height="18" fill="#f23645"/>
<rect x="427" y="788" width="1" height="23" fill="#f23645"/>
<rect x="425" y="783" width="5" height="5" fill="#f23645"/>
<rect x="434" y="788" width="1" height="12" fill="#089981"/>
<rect x="432" y="740" width="5" height="48" fill="#089981"/>
<rect x="440" y="649" width="1" height="12" fill="#089981"/>
<rect x="440" y="741" width="1" height="4" fill="#089981"/>
<rect x="438" y="661" width="5" height="80" fill="#089981"/>
<rect x="446" y="650" width="1" height="10" fill="#f23645"/>
<rect x="446" y="679" width="1" height="5" fill="#f23645"/>
<rect x="444" y="660" width="5" height="19" fill="#f23645"/>
<rect x="453" y="640" width="1" height="6" fill="#089981"/>
<rect x="453" y="679" width="1" height="8" fill="#089981"/>
<rect x="451" y="646" width="5" height="33" fill="#089981"/>
<rect x="459" y="619" width="1" height="13" fill="#089981"/>
<rect x="459" y="648" width="1" height="6" fill="#089981"/>
<rect x="457" y="632" width="5" height="16" fill="#089981"/>
<rect x="466" y="584" width="1" height="10" fill="#089981"/>
<rect x="464" y="594" width="5" height="39" fill="#089981"/>
<rect x="472" y="570" width="1" height="24" fill="#f23645"/>
<rect x="472" y="599" width="1" height="71" fill="#f23645"/>
<rect x="470" y="594" width="5" height="5" fill="#f23645"/>
<rect x="478" y="577" width="1" height="4" fill="#089981"/>
<rect x="478" y="598" width="1" height="3" fill="#089981"/>
<rect x="476" y="581" width="5" height="17" fill="#089981"/>
<rect x="485" y="574" width="1" height="5" fill="#089981"/>
<rect x="485" y="580" width="1" height="8" fill="#089981"/>
<rect x="483" y="579" width="5" height="1" fill="#089981"/>
<rect x="491" y="583" width="1" height="4" fill="#f23645"/>
<rect x="491" y="591" width="1" height="2" fill="#f23645"/>
<rect x="489" y="587" width="5" height="4" fill="#f23645"/>
<rect x="498" y="584" width="1" height="7" fill="#f23645"/>
<rect x="496" y="591" width="5" height="14" fill="#f23645"/>
<rect x="504" y="577" width="1" height="18" fill="#089981"/>
<rect x="504" y="605" width="1" height="11" fill="#089981"/>
<rect x="502" y="595" width="5" height="10" fill="#089981"/>
<rect x="511" y="550" width="1" height="6" fill="#089981"/>
<rect x="511" y="596" width="1" height="14" fill="#089981"/>
<rect x="509" y="556" width="5" height="40" fill="#089981"/>
<rect x="517" y="539" width="1" height="8" fill="#089981"/>
<rect x="517" y="557" width="1" height="35" fill="#089981"/>
<rect x="515" y="547" width="5" height="10" fill="#089981"/>
<rect x="523" y="499" width="1" height="23" fill="#089981"/>
<rect x="523" y="548" width="1" height="12" fill="#089981"/>
<rect x="521" y="522" width="5" height="26" fill="#089981"/>
<rect x="530" y="493" width="1" height="29" fill="#f23645"/>
<rect x="530" y="525" width="1" height="4" fill="#f23645"/>
<rect x="528" y="522" width="5" height="3" fill="#f23645"/>
<rect x="536" y="487" width="1" height="5" fill="#089981"/>
<rect x="536" y="526" width="1" height="3" fill="#089981"/>
<rect x="534" y="492" width="5" height="34" fill="#089981"/>
<rect x="543" y="485" width="1" height="7" fill="#f23645"/>
<rect x="543" y="535" width="1" height="19" fill="#f23645"/>
<rect x="541" y="492" width="5" height="43" fill="#f23645"/>
<rect x="549" y="512" width="1" height="22" fill="#f23645"/>
<rect x="549" y="552" width="1" height="7" fill="#f23645"/>
<rect x="547" y="534" width="5" height="18" fill="#f23645"/>
<rect x="555" y="542" width="1" height="9" fill="#f23645"/>
<rect x="555" y="582" width="1" height="19" fill="#f23645"/>
<rect x="553" y="551" width="5" height="31" fill="#f23645"/>
<rect x="562" y="552" width="1" height="29" fill="#f23645"/>
<rect x="562" y="583" width="1" height="9" fill="#f23645"/>
<rect x="560" y="581" width="5" height="2" fill="#f23645"/>
<rect x="568" y="573" width="1" height="9" fill="#f23645"/>
<rect x="568" y="601" width="1" height="8" fill="#f23645"/>
<rect x="566" y="582" width="5" height="19" fill="#f23645"/>
<rect x="575" y="597" width="1" height="3" fill="#f23645"/>
<rect x="575" y="616" width="1" height="8" fill="#f23645"/>
<rect x="573" y="600" width="5" height="16" fill="#f23645"/>
<rect x="581" y="581" width="1" height="2" fill="#089981"/>
<rect x="581" y="616" width="1" height="14" fill="#089981"/>
<rect x="579" y="583" width="5" height="33" fill="#089981"/>
<rect x="588" y="539" width="1" height="23" fill="#089981"/>
<rect x="586" y="562" width="5" height="22" fill="#089981"/>
<rect x="594" y="496" width="1" height="12" fill="#089981"/>
<rect x="594" y="564" width="1" height="2" fill="#089981"/>
<rect x="592" y="508" width="5" height="56" fill="#089981"/>
<rect x="600" y="499" width="1" height="9" fill="#f23645"/>
<rect x="600" y="548" width="1" height="7" fill="#f23645"/>
<rect x="598" y="508" width="5" height="40" fill="#f23645"/>
<rect x="607" y="544" width="1" height="3" fill="#f23645"/>
<rect x="607" y="554" width="1" height="19" fill="#f23645"/>
<rect x="605" y="547" width="5" height="7" fill="#f23645"/>
<rect x="613" y="541" width="1" height="3" fill="#089981"/>
<rect x="613" y="554" width="1" height="7" fill="#089981"/>
<rect x="611" y="544" width="5" height="10" fill="#089981"/>
<rect x="620" y="543" width="1" height="1" fill="#f23645"/>
<rect x="620" y="571" width="1" height="7" fill="#f23645"/>
<rect x="618" y="544" width="5" height="27" fill="#f23645"/>
<rect x="626" y="523" width="1" height="10" fill="#089981"/>
<rect x="626" y="571" width="1" height="7" fill="#089981"/>
<rect x="624" y="533" width="5" height="38" fill="#089981"/>
<rect x="632" y="525" width="1" height="7" fill="#089981"/>
<rect x="632" y="533" width="1" height="13" fill="#089981"/>
<rect x="630" y="532" width="5" height="1" fill="#089981"/>
<rect x="639" y="528" width="1" height="3" fill="#f23645"/>
<rect x="639" y="548" width="1" height="7" fill="#f23645"/>
<rect x="637" y="531" width="5" height="17" fill="#f23645"/>
<rect x="645" y="542" width="1" height="9" fill="#f23645"/>
<rect x="645" y="552" width="1" height="14" fill="#f23645"/>
<rect x="643" y="551" width="5" height="1" fill="#f23645"/>
<rect x="652" y="509" width="1" height="2" fill="#089981"/>
<rect x="652" y="553" width="1" height="7" fill="#089981"/>
<rect x="650" y="511" width="5" height="42" fill="#089981"/>
<rect x="658" y="504" width="1" height="7" fill="#f23645"/>
<rect x="658" y="534" width="1" height="32" fill="#f23645"/>
<rect x="656" y="511" width="5" height="23" fill="#f23645"/>
<rect x="665" y="490" width="1" height="31" fill="#089981"/>
<rect x="665" y="535" width="1" height="18" fill="#089981"/>
<rect x="663" y="521" width="5" height="14" fill="#089981"/>
<rect x="671" y="504" width="1" height="7" fill="#089981"/>
<rect x="671" y="522" width="1" height="15" fill="#089981"/>
<rect x="669" y="511" width="5" height="11" fill="#089981"/>
<rect x="677" y="509" width="1" height="2" fill="#f23645"/>
<rect x="677" y="522" width="1" height="8" fill="#f23645"/>
<rect x="675" y="511" width="5" height="11" fill="#f23645"/>
<rect x="684" y="507" width="1" height="2" fill="#089981"/>
<rect x="684" y="522" width="1" height="12" fill="#089981"/>
<rect x="682" y="509" width="5" height="13" fill="#089981"/>
<rect x="690" y="480" width="1" height="14" fill="#089981"/>
<rect x="690" y="510" width="1" height="6" fill="#089981"/>
<rect x="688" y="494" width="5" height="16" fill="#089981"/>
<rect x="697" y="479" width="1" height="15" fill="#f23645"/>
<rect x="697" y="519" width="1" height="2" fill="#f23645"/>
<rect x="695" y="494" width="5" height="25" fill="#f23645"/>
<rect x="703" y="455" width="1" height="2" fill="#089981"/>
<rect x="703" y="520" width="1" height="37" fill="#089981"/>
<rect x="701" y="457" width="5" height="63" fill="#089981"/>
<rect x="709" y="438" width="1" height="9" fill="#089981"/>
<rect x="709" y="458" width="1" height="36" fill="#089981"/>
<rect x="707" y="447" width="5" height="11" fill="#089981"/>
<rect x="716" y="431" width="1" height="15" fill="#f23645"/>
<rect x="716" y="477" width="1" height="4" fill="#f23645"/>
<rect x="714" y="446" width="5" height="31" fill="#f23645"/>
<rect x="722" y="468" width="1" height="8" fill="#f23645"/>
<rect x="722" y="516" width="1" height="2" fill="#f23645"/>
<rect x="720" y="476" width="5" height="40" fill="#f23645"/>
<rect x="729" y="497" width="1" height="9" fill="#089981"/>
<rect x="729" y="516" width="1" height="8" fill="#089981"/>
<rect x="727" y="506" width="5" height="10" fill="#089981"/>
<rect x="735" y="489" width="1" height="13" fill="#089981"/>
<rect x="735" y="507" width="1" height="8" fill="#089981"/>
<rect x="733" y="502" width="5" height="5" fill="#089981"/>
<rect x="742" y="466" width="1" height="5" fill="#089981"/>
<rect x="742" y="502" width="1" height="36" fill="#089981"/>
<rect x="740" y="471" width="5" height="31" fill="#089981"/>
<rect x="748" y="449" width="1" height="22" fill="#f23645"/>
<rect x="748" y="474" width="1" height="9" fill="#f23645"/>
<rect x="746" y="471" width="5" height="3" fill="#f23645"/>
<rect x="754" y="451" width="1" height="23" fill="#f23645"/>
<rect x="754" y="574" width="1" height="15" fill="#f23645"/>
<rect x="752" y="474" width="5" height="100" fill="#f23645"/>
<rect x="761" y="530" width="1" height="19" fill="#089981"/>
<rect x="761" y="575" width="1" height="24" fill="#089981"/>
<rect x="759" y="549" width="5" height="26" fill="#089981"/>
<rect x="767" y="510" width="1" height="38" fill="#089981"/>
<rect x="767" y="549" width="1" height="10" fill="#089981"/>
<rect x="765" y="548" width="5" height="1" fill="#089981"/>
<rect x="774" y="532" width="1" height="11" fill="#089981"/>
<rect x="774" y="549" width="1" height="32" fill="#089981"/>
<rect x="772" y="543" width="5" height="6" fill="#089981"/>
<rect x="780" y="513" width="1" height="11" fill="#089981"/>
<rect x="780" y="545" width="1" height="9" fill="#089981"/>
<rect x="778" y="524" width="5" height="21" fill="#089981"/>
<rect x="786" y="517" width="1" height="7" fill="#f23645"/>
<rect x="786" y="536" width="1" height="14" fill="#f23645"/>
<rect x="784" y="524" width="5" height="12" fill="#f23645"/>
<rect x="793" y="532" width="1" height="1" fill="#089981"/>
<rect x="793" y="536" width="1" height="20" fill="#089981"/>
<rect x="791" y="533" width="5" height="3" fill="#089981"/>
<rect x="799" y="552" width="1" height="8" fill="#089981"/>
<rect x="797" y="560" width="5" height="2" fill="#089981"/>
<rect x="806" y="552" width="1" height="8" fill="#f23645"/>
<rect x="806" y="668" width="1" height="4" fill="#f23645"/>
<rect x="804" y="560" width="5" height="108" fill="#f23645"/>
<rect x="812" y="643" width="1" height="24" fill="#f23645"/>
<rect x="810" y="667" width="5" height="53" fill="#f23645"/>
<rect x="819" y="678" width="1" height="12" fill="#089981"/>
<rect x="819" y="720" width="1" height="10" fill="#089981"/>
<rect x="817" y="690" width="5" height="30" fill="#089981"/>
<rect x="825" y="680" width="1" height="10" fill="#089981"/>
<rect x="825" y="691" width="1" height="25" fill="#089981"/>
<rect x="823" y="690" width="5" height="1" fill="#089981"/>
<rect x="831" y="651" width="1" height="31" fill="#089981"/>
<rect x="829" y="682" width="5" height="9" fill="#089981"/>
<rect x="838" y="648" width="1" height="10" fill="#089981"/>
<rect x="838" y="683" width="1" height="6" fill="#089981"/>
<rect x="836" y="658" width="5" height="25" fill="#089981"/>
<rect x="844" y="640" width="1" height="9" fill="#089981"/>
<rect x="842" y="649" width="5" height="10" fill="#089981"/>
<rect x="851" y="639" width="1" height="5" fill="#089981"/>
<rect x="851" y="650" width="1" height="38" fill="#089981"/>
<rect x="849" y="644" width="5" height="6" fill="#089981"/>
<rect x="857" y="618" width="1" height="24" fill="#089981"/>
<rect x="857" y="645" width="1" height="1" fill="#089981"/>
<rect x="855" y="642" width="5" height="3" fill="#089981"/>
<rect x="864" y="587" width="1" height="11" fill="#089981"/>
<rect x="864" y="643" width="1" height="3" fill="#089981"/>
<rect x="862" y="598" width="5" height="45" fill="#089981"/>
<rect x="870" y="572" width="1" height="9" fill="#089981"/>
<rect x="870" y="599" width="1" height="16" fill="#089981"/>
<rect x="868" y="581" width="5" height="18" fill="#089981"/>
<rect x="876" y="567" width="1" height="15" fill="#f23645"/>
<rect x="876" y="586" width="1" height="6" fill="#f23645"/>
<rect x="874" y="582" width="5" height="4" fill="#f23645"/>
<rect x="883" y="557" width="1" height="4" fill="#089981"/>
<rect x="883" y="586" width="1" height="6" fill="#089981"/>
<rect x="881" y="561" width="5" height="25" fill="#089981"/>
<rect x="889" y="539" width="1" height="21" fill="#f23645"/>
<rect x="889" y="565" width="1" height="9" fill="#f23645"/>
<rect x="887" y="560" width="5" height="5" fill="#f23645"/>
<rect x="896" y="555" width="1" height="10" fill="#f23645"/>
<rect x="896" y="617" width="1" height="9" fill="#f23645"/>
<rect x="894" y="565" width="5" height="52" fill="#f23645"/>
<rect x="902" y="579" width="1" height="37" fill="#f23645"/>
<rect x="900" y="616" width="5" height="14" fill="#f23645"/>
<rect x="908" y="628" width="1" height="1" fill="#f23645"/>
<rect x="908" y="652" width="1" height="13" fill="#f23645"/>
<rect x="906" y="629" width="5" height="23" fill="#f23645"/>
<rect x="915" y="643" width="1" height="8" fill="#f23645"/>
<rect x="915" y="675" width="1" height="5" fill="#f23645"/>
<rect x="913" y="651" width="5" height="24" fill="#f23645"/>
<rect x="921" y="653" width="1" height="5" fill="#089981"/>
<rect x="921" y="675" width="1" height="14" fill="#089981"/>
<rect x="919" y="658" width="5" height="17" fill="#089981"/>
<rect x="928" y="612" width="1" height="27" fill="#089981"/>
<rect x="926" y="639" width="5" height="20" fill="#089981"/>
<rect x="934" y="607" width="1" height="9" fill="#089981"/>
<rect x="934" y="639" width="1" height="2" fill="#089981"/>
<rect x="932" y="616" width="5" height="23" fill="#089981"/>
<rect x="941" y="597" width="1" height="3" fill="#089981"/>
<rect x="941" y="618" width="1" height="1" fill="#089981"/>
<rect x="939" y="600" width="5" height="18" fill="#089981"/>
<rect x="947" y="589" width="1" height="11" fill="#f23645"/>
<rect x="947" y="608" width="1" height="5" fill="#f23645"/>
<rect x="945" y="600" width="5" height="8" fill="#f23645"/>
<rect x="953" y="617" width="1" height="6" fill="#f23645"/>
<rect x="951" y="607" width="5" height="10" fill="#f23645"/>
<rect x="960" y="601" width="1" height="7" fill="#089981"/>
<rect x="960" y="621" width="1" height="13" fill="#089981"/>
<rect x="958" y="608" width="5" height="13" fill="#089981"/>
<rect x="966" y="571" width="1" height="1" fill="#089981"/>
<rect x="966" y="610" width="1" height="6" fill="#089981"/>
<rect x="964" y="572" width="5" height="38" fill="#089981"/>
<rect x="973" y="522" width="1" height="30" fill="#089981"/>
<rect x="973" y="573" width="1" height="2" fill="#089981"/>
<rect x="971" y="552" width="5" height="21" fill="#089981"/>
<rect x="979" y="527" width="1" height="25" fill="#f23645"/>
<rect x="979" y="564" width="1" height="7" fill="#f23645"/>
<rect x="977" y="552" width="5" height="12" fill="#f23645"/>
<rect x="985" y="564" width="1" height="8" fill="#089981"/>
<rect x="983" y="525" width="5" height="39" fill="#089981"/>
<rect x="992" y="491" width="1" height="12" fill="#089981"/>
<rect x="992" y="526" width="1" height="7" fill="#089981"/>
<rect x="990" y="503" width="5" height="23" fill="#089981"/>
<rect x="998" y="491" width="1" height="11" fill="#f23645"/>
<rect x="996" y="502" width="5" height="16" fill="#f23645"/>
<rect x="1005" y="512" width="1" height="5" fill="#f23645"/>
<rect x="1003" y="517" width="5" height="36" fill="#f23645"/>
<rect x="1011" y="335" width="1" height="13" fill="#089981"/>
<rect x="1011" y="553" width="1" height="4" fill="#089981"/>
<rect x="1009" y="348" width="5" height="205" fill="#089981"/>
<rect x="1018" y="315" width="1" height="33" fill="#f23645"/>
<rect x="1018" y="376" width="1" height="7" fill="#f23645"/>
<rect x="1016" y="348" width="5" height="28" fill="#f23645"/>
<rect x="1024" y="370" width="1" height="5" fill="#f23645"/>
<rect x="1024" y="393" width="1" height="21" fill="#f23645"/>
<rect x="1022" y="375" width="5" height="18" fill="#f23645"/>
<rect x="1030" y="378" width="1" height="8" fill="#089981"/>
<rect x="1030" y="393" width="1" height="19" fill="#089981"/>
<rect x="1028" y="386" width="5" height="7" fill="#089981"/>
<rect x="1037" y="375" width="1" height="11" fill="#f23645"/>
<rect x="1037" y="387" width="1" height="37" fill="#f23645"/>
<rect x="1035" y="386" width="5" height="1" fill="#f23645"/>
<rect x="1043" y="361" width="1" height="26" fill="#f23645"/>
<rect x="1043" y="388" width="1" height="8" fill="#f23645"/>
<rect x="1041" y="387" width="5" height="1" fill="#f23645"/>
<rect x="1050" y="349" width="1" height="7" fill="#089981"/>
<rect x="1050" y="388" width="1" height="19" fill="#089981"/>
<rect x="1048" y="356" width="5" height="32" fill="#089981"/>
<rect x="1056" y="334" width="1" height="22" fill="#f23645"/>
<rect x="1056" y="373" width="1" height="8" fill="#f23645"/>
<rect x="1054" y="356" width="5" height="17" fill="#f23645"/>
<rect x="1062" y="347" width="1" height="24" fill="#f23645"/>
<rect x="1062" y="383" width="1" height="16" fill="#f23645"/>
<rect x="1060" y="371" width="5" height="12" fill="#f23645"/>
<rect x="1069" y="378" width="1" height="4" fill="#f23645"/>
<rect x="1069" y="428" width="1" height="13" fill="#f23645"/>
<rect x="1067" y="382" width="5" height="46" fill="#f23645"/>
<rect x="1075" y="406" width="1" height="4" fill="#089981"/>
<rect x="1075" y="428" width="1" height="6" fill="#089981"/>
<rect x="1073" y="410" width="5" height="18" fill="#089981"/>
<rect x="1082" y="402" width="1" height="4" fill="#089981"/>
<rect x="1082" y="411" width="1" height="11" fill="#089981"/>
<rect x="1080" y="406" width="5" height="5" fill="#089981"/>
<rect x="1088" y="399" width="1" height="7" fill="#089981"/>
<rect x="1088" y="407" width="1" height="12" fill="#089981"/>
<rect x="1086" y="406" width="5" height="1" fill="#089981"/>
<rect x="1095" y="407" width="1" height="5" fill="#089981"/>
<rect x="1093" y="387" width="5" height="20" fill="#089981"/>
<rect x="1101" y="379" width="1" height="5" fill="#089981"/>
<rect x="1101" y="388" width="1" height="7" fill="#089981"/>
<rect x="1099" y="384" width="5" height="4" fill="#089981"/>
<rect x="1107" y="388" width="1" height="2" fill="#f23645"/>
<rect x="1107" y="398" width="1" height="6" fill="#f23645"/>
<rect x="1105" y="390" width="5" height="8" fill="#f23645"/>
<rect x="1114" y="398" width="1" height="5" fill="#089981"/>
<rect x="1112" y="382" width="5" height="16" fill="#089981"/>
<rect x="1120" y="367" width="1" height="16" fill="#f23645"/>
<rect x="1118" y="383" width="5" height="44" fill="#f23645"/>
<rect x="1127" y="395" width="1" height="11" fill="#089981"/>
<rect x="1127" y="427" width="1" height="8" fill="#089981"/>
<rect x="1125" y="406" width="5" height="21" fill="#089981"/>
<rect x="1133" y="401" width="1" height="5" fill="#f23645"/>
<rect x="1133" y="464" width="1" height="11" fill="#f23645"/>
<rect x="1131" y="406" width="5" height="58" fill="#f23645"/>
<rect x="1139" y="358" width="1" height="40" fill="#089981"/>
<rect x="1139" y="464" width="1" height="20" fill="#089981"/>
<rect x="1137" y="398" width="5" height="66" fill="#089981"/>
<rect x="1146" y="358" width="1" height="39" fill="#f23645"/>
<rect x="1146" y="415" width="1" height="5" fill="#f23645"/>
<rect x="1144" y="397" width="5" height="18" fill="#f23645"/>
<rect x="1152" y="402" width="1" height="12" fill="#f23645"/>
<rect x="1152" y="439" width="1" height="4" fill="#f23645"/>
<rect x="1150" y="414" width="5" height="25" fill="#f23645"/>
<rect x="1159" y="403" width="1" height="15" fill="#089981"/>
<rect x="1159" y="439" width="1" height="13" fill="#089981"/>
<rect x="1157" y="418" width="5" height="21" fill="#089981"/>
<rect x="1165" y="418" width="1" height="5" fill="#089981"/>
<rect x="1163" y="381" width="5" height="37" fill="#089981"/>
<rect x="1172" y="381" width="1" height="1" fill="#089981"/>
<rect x="1170" y="310" width="5" height="71" fill="#089981"/>
<rect x="1178" y="247" width="1" height="18" fill="#089981"/>
<rect x="1176" y="265" width="5" height="46" fill="#089981"/>
<rect x="1184" y="226" width="1" height="1" fill="#089981"/>
<rect x="1184" y="266" width="1" height="2" fill="#089981"/>
<rect x="1182" y="227" width="5" height="39" fill="#089981"/>
<rect x="1191" y="217" width="1" height="6" fill="#089981"/>
<rect x="1191" y="228" width="1" height="7" fill="#089981"/>
<rect x="1189" y="223" width="5" height="5" fill="#089981"/>
<rect x="1197" y="244" width="1" height="4" fill="#f23645"/>
<rect x="1195" y="222" width="5" height="22" fill="#f23645"/>
<rect x="1204" y="231" width="1" height="10" fill="#089981"/>
<rect x="1204" y="244" width="1" height="16" fill="#089981"/>
<rect x="1202" y="241" width="5" height="3" fill="#089981"/>
<rect x="1210" y="229" width="1" height="12" fill="#f23645"/>
<rect x="1210" y="257" width="1" height="29" fill="#f23645"/>
<rect x="1208" y="241" width="5" height="16" fill="#f23645"/>
<rect x="1217" y="301" width="1" height="4" fill="#f23645"/>
<rect x="1215" y="256" width="5" height="45" fill="#f23645"/>
<rect x="1223" y="280" width="1" height="19" fill="#f23645"/>
<rect x="1221" y="299" width="5" height="13" fill="#f23645"/>
<rect x="1229" y="299" width="1" height="8" fill="#089981"/>
<rect x="1229" y="312" width="1" height="11" fill="#089981"/>
<rect x="1227" y="307" width="5" height="5" fill="#089981"/>
<rect x="1236" y="292" width="1" height="2" fill="#089981"/>
<rect x="1236" y="308" width="1" height="7" fill="#089981"/>
<rect x="1234" y="294" width="5" height="14" fill="#089981"/>
<rect x="1242" y="268" width="1" height="18" fill="#089981"/>
<rect x="1242" y="295" width="1" height="4" fill="#089981"/>
<rect x="1240" y="286" width="5" height="9" fill="#089981"/>
<rect x="1249" y="283" width="1" height="2" fill="#089981"/>
<rect x="1249" y="286" width="1" height="18" fill="#089981"/>
<rect x="1247" y="285" width="5" height="1" fill="#089981"/>
<rect x="1255" y="281" width="1" height="4" fill="#f23645"/>
<rect x="1253" y="285" width="5" height="17" fill="#f23645"/>
<rect x="1261" y="287" width="1" height="17" fill="#f23645"/>
<rect x="1261" y="309" width="1" height="12" fill="#f23645"/>
<rect x="1259" y="304" width="5" height="5" fill="#f23645"/>
<rect x="1268" y="305" width="1" height="5" fill="#f23645"/>
<rect x="1268" y="336" width="1" height="9" fill="#f23645"/>
<rect x="1266" y="310" width="5" height="26" fill="#f23645"/>
<rect x="1274" y="324" width="1" height="12" fill="#f23645"/>
<rect x="1274" y="369" width="1" height="4" fill="#f23645"/>
<rect x="1272" y="336" width="5" height="33" fill="#f23645"/>
<rect x="1281" y="356" width="1" height="12" fill="#f23645"/>
<rect x="1281" y="398" width="1" height="2" fill="#f23645"/>
<rect x="1279" y="368" width="5" height="30" fill="#f23645"/>
<rect x="1287" y="356" width="1" height="21" fill="#089981"/>
<rect x="1287" y="398" width="1" height="13" fill="#089981"/>
<rect x="1285" y="377" width="5" height="21" fill="#089981"/>
<rect x="1294" y="366" width="1" height="11" fill="#089981"/>
<rect x="1294" y="378" width="1" height="24" fill="#089981"/>
<rect x="1292" y="377" width="5" height="1" fill="#089981"/>
<rect x="1300" y="348" width="1" height="29" fill="#f23645"/>
<rect x="1300" y="385" width="1" height="1" fill="#f23645"/>
<rect x="1298" y="377" width="5" height="8" fill="#f23645"/>
<rect x="1306" y="371" width="1" height="5" fill="#089981"/>
<rect x="1306" y="385" width="1" height="36" fill="#089981"/>
<rect x="1304" y="376" width="5" height="9" fill="#089981"/>
<rect x="1313" y="353" width="1" height="16" fill="#089981"/>
<rect x="1313" y="377" width="1" height="8" fill="#089981"/>
<rect x="1311" y="369" width="5" height="8" fill="#089981"/>
<rect x="1319" y="335" width="1" height="21" fill="#089981"/>
<rect x="1317" y="356" width="5" height="14" fill="#089981"/>
<rect x="1326" y="334" width="1" height="23" fill="#f23645"/>
<rect x="1326" y="367" width="1" height="14" fill="#f23645"/>
<rect x="1324" y="357" width="5" height="10" fill="#f23645"/>
<rect x="1332" y="349" width="1" height="5" fill="#089981"/>
<rect x="1332" y="367" width="1" height="14" fill="#089981"/>
<rect x="1330" y="354" width="5" height="13" fill="#089981"/>
<rect x="1338" y="348" width="1" height="6" fill="#f23645"/>
<rect x="1336" y="354" width="5" height="21" fill="#f23645"/>
<rect x="1345" y="351" width="1" height="1" fill="#089981"/>
<rect x="1345" y="374" width="1" height="7" fill="#089981"/>
<rect x="1343" y="352" width="5" height="22" fill="#089981"/>
<rect x="1351" y="339" width="1" height="13" fill="#f23645"/>
<rect x="1351" y="353" width="1" height="16" fill="#f23645"/>
<rect x="1349" y="352" width="5" height="1" fill="#f23645"/>
<rect x="1358" y="334" width="1" height="3" fill="#089981"/>
<rect x="1358" y="353" width="1" height="23" fill="#089981"/>
<rect x="1356" y="337" width="5" height="16" fill="#089981"/>
<rect x="1364" y="320" width="1" height="17" fill="#f23645"/>
<rect x="1364" y="380" width="1" height="17" fill="#f23645"/>
<rect x="1362" y="337" width="5" height="43" fill="#f23645"/>
<rect x="1371" y="343" width="1" height="16" fill="#089981"/>
<rect x="1371" y="380" width="1" height="14" fill="#089981"/>
<rect x="1369" y="359" width="5" height="21" fill="#089981"/>
<rect x="1377" y="316" width="1" height="26" fill="#089981"/>
<rect x="1375" y="342" width="5" height="18" fill="#089981"/>
<rect x="1383" y="294" width="1" height="1" fill="#089981"/>
<rect x="1383" y="343" width="1" height="1" fill="#089981"/>
<rect x="1381" y="295" width="5" height="48" fill="#089981"/>
<rect x="1390" y="288" width="1" height="7" fill="#f23645"/>
<rect x="1390" y="298" width="1" height="16" fill="#f23645"/>
<rect x="1388" y="295" width="5" height="3" fill="#f23645"/>
<rect x="1396" y="295" width="1" height="2" fill="#f23645"/>
<rect x="1396" y="344" width="1" height="2" fill="#f23645"/>
<rect x="1394" y="297" width="5" height="47" fill="#f23645"/>
<rect x="1403" y="339" width="1" height="3" fill="#089981"/>
<rect x="1403" y="343" width="1" height="12" fill="#089981"/>
<rect x="1401" y="342" width="5" height="1" fill="#089981"/>
<rect x="1409" y="338" width="1" height="4" fill="#f23645"/>
<rect x="1409" y="343" width="1" height="13" fill="#f23645"/>
<rect x="1407" y="342" width="5" height="1" fill="#f23645"/>
<rect x="1415" y="336" width="1" height="4" fill="#f23645"/>
<rect x="1415" y="348" width="1" height="8" fill="#f23645"/>
<rect x="1413" y="340" width="5" height="8" fill="#f23645"/>
<rect x="1422" y="392" width="1" height="5" fill="#f23645"/>
<rect x="1420" y="348" width="5" height="44" fill="#f23645"/>
<rect x="1428" y="371" width="1" height="15" fill="#089981"/>
<rect x="1428" y="392" width="1" height="34" fill="#089981"/>
<rect x="1426" y="386" width="5" height="6" fill="#089981"/>
<rect x="1435" y="368" width="1" height="1" fill="#089981"/>
<rect x="1435" y="387" width="1" height="32" fill="#089981"/>
<rect x="1433" y="369" width="5" height="18" fill="#089981"/>
<rect x="1441" y="413" width="1" height="1" fill="#f23645"/>
<rect x="1439" y="369" width="5" height="44" fill="#f23645"/>
<rect x="1448" y="399" width="1" height="8" fill="#089981"/>
<rect x="1448" y="413" width="1" height="8" fill="#089981"/>
<rect x="1446" y="407" width="5" height="6" fill="#089981"/>
<rect x="1454" y="396" width="1" height="11" fill="#f23645"/>
<rect x="1452" y="407" width="5" height="34" fill="#f23645"/>
<rect x="1458" y="396" width="5" height="43" fill="#089981"/>
<rect x="1467" y="374" width="1" height="13" fill="#089981"/>
<rect x="1467" y="397" width="1" height="10" fill="#089981"/>
<rect x="1465" y="387" width="5" height="10" fill="#089981"/>
<rect x="1473" y="344" width="1" height="7" fill="#089981"/>
<rect x="1471" y="351" width="5" height="37" fill="#089981"/>
<rect x="1480" y="334" width="1" height="7" fill="#089981"/>
<rect x="1480" y="352" width="1" height="21" fill="#089981"/>
<rect x="1478" y="341" width="5" height="11" fill="#089981"/>
<rect x="1486" y="324" width="1" height="17" fill="#f23645"/>
<rect x="1486" y="354" width="1" height="1" fill="#f23645"/>
<rect x="1484" y="341" width="5" height="13" fill="#f23645"/>
<rect x="1492" y="350" width="1" height="3" fill="#f23645"/>
<rect x="1492" y="371" width="1" height="9" fill="#f23645"/>
<rect x="1490" y="353" width="5" height="18" fill="#f23645"/>
<rect x="1499" y="366" width="1" height="4" fill="#f23645"/>
<rect x="1499" y="383" width="1" height="7" fill="#f23645"/>
<rect x="1497" y="370" width="5" height="13" fill="#f23645"/>
<rect x="1505" y="374" width="1" height="8" fill="#f23645"/>
<rect x="1505" y="386" width="1" height="9" fill="#f23645"/>
<rect x="1503" y="382" width="5" height="4" fill="#f23645"/>
<rect x="1512" y="333" width="1" height="2" fill="#089981"/>
<rect x="1510" y="335" width="5" height="52" fill="#089981"/>
<rect x="1518" y="325" width="1" height="9" fill="#089981"/>
<rect x="1518" y="337" width="1" height="42" fill="#089981"/>
<rect x="1516" y="334" width="5" height="3" fill="#089981"/>
<rect x="1525" y="328" width="1" height="6" fill="#f23645"/>
<rect x="1525" y="355" width="1" height="20" fill="#f23645"/>
<rect x="1523" y="334" width="5" height="21" fill="#f23645"/>
<rect x="1531" y="340" width="1" height="14" fill="#f23645"/>
<rect x="1531" y="357" width="1" height="15" fill="#f23645"/>
<rect x="1529" y="354" width="5" height="3" fill="#f23645"/>
<rect x="1537" y="342" width="1" height="14" fill="#089981"/>
<rect x="1537" y="357" width="1" height="25" fill="#089981"/>
<rect x="1535" y="356" width="5" height="1" fill="#089981"/>
<rect x="1544" y="348" width="1" height="8" fill="#f23645"/>
<rect x="1544" y="365" width="1" height="2" fill="#f23645"/>
<rect x="1542" y="356" width="5" height="9" fill="#f23645"/>
<rect x="1550" y="362" width="1" height="1" fill="#089981"/>
<rect x="1550" y="364" width="1" height="22" fill="#089981"/>
<rect x="1548" y="363" width="5" height="1" fill="#089981"/>
<rect x="1557" y="333" width="1" height="1" fill="#089981"/>
<rect x="1557" y="364" width="1" height="9" fill="#089981"/>
<rect x="1555" y="334" width="5" height="30" fill="#089981"/>
<rect x="1563" y="331" width="1" height="3" fill="#f23645"/>
<rect x="1563" y="355" width="1" height="5" fill="#f23645"/>
<rect x="1561" y="334" width="5" height="21" fill="#f23645"/>
<rect x="1569" y="304" width="1" height="34" fill="#f23645"/>
<rect x="1569" y="342" width="1" height="1" fill="#f23645"/>
<rect x="1567" y="338" width="5" height="4" fill="#f23645"/>
<rect x="1576" y="247" width="1" height="5" fill="#089981"/>
<rect x="1574" y="252" width="5" height="90" fill="#089981"/>
<rect x="1582" y="220" width="1" height="31" fill="#f23645"/>
<rect x="1582" y="295" width="1" height="11" fill="#f23645"/>
<rect x="1580" y="251" width="5" height="44" fill="#f23645"/>
<rect x="1589" y="258" width="1" height="36" fill="#f23645"/>
<rect x="1589" y="327" width="1" height="1" fill="#f23645"/>
<rect x="1587" y="294" width="5" height="33" fill="#f23645"/>
<rect x="1595" y="286" width="1" height="28" fill="#089981"/>
<rect x="1595" y="328" width="1" height="7" fill="#089981"/>
<rect x="1593" y="314" width="5" height="14" fill="#089981"/>
<rect x="1602" y="305" width="1" height="3" fill="#089981"/>
<rect x="1602" y="316" width="1" height="21" fill="#089981"/>
<rect x="1600" y="308" width="5" height="8" fill="#089981"/>
<rect x="1608" y="260" width="1" height="12" fill="#089981"/>
<rect x="1608" y="310" width="1" height="5" fill="#089981"/>
<rect x="1606" y="272" width="5" height="38" fill="#089981"/>
<rect x="1614" y="212" width="1" height="4" fill="#089981"/>
<rect x="1612" y="216" width="5" height="57" fill="#089981"/>
<rect x="1621" y="183" width="1" height="23" fill="#089981"/>
<rect x="1621" y="217" width="1" height="1" fill="#089981"/>
<rect x="1619" y="206" width="5" height="11" fill="#089981"/>
<rect x="1627" y="179" width="1" height="11" fill="#089981"/>
<rect x="1625" y="190" width="5" height="17" fill="#089981"/>
<rect x="1634" y="141" width="1" height="48" fill="#f23645"/>
<rect x="1634" y="191" width="1" height="12" fill="#f23645"/>
<rect x="1632" y="189" width="5" height="2" fill="#f23645"/>
<rect x="1640" y="182" width="1" height="2" fill="#089981"/>
<rect x="1640" y="191" width="1" height="31" fill="#089981"/>
<rect x="1638" y="184" width="5" height="7" fill="#089981"/>
<rect x="1647" y="183" width="1" height="1" fill="#f23645"/>
<rect x="1647" y="201" width="1" height="22" fill="#f23645"/>
<rect x="1645" y="184" width="5" height="17" fill="#f23645"/>
<rect x="1653" y="184" width="1" height="9" fill="#089981"/>
<rect x="1653" y="201" width="1" height="10" fill="#089981"/>
<rect x="1651" y="193" width="5" height="8" fill="#089981"/>
<rect x="1659" y="113" width="1" height="5" fill="#089981"/>
<rect x="1657" y="118" width="5" height="76" fill="#089981"/>
<rect x="1666" y="78" width="1" height="15" fill="#089981"/>
<rect x="1666" y="119" width="1" height="5" fill="#089981"/>
<rect x="1664" y="93" width="5" height="26" fill="#089981"/>
<rect x="1672" y="84" width="1" height="9" fill="#f23645"/>
<rect x="1672" y="101" width="1" height="11" fill="#f23645"/>
<rect x="1670" y="93" width="5" height="8" fill="#f23645"/>
<rect x="1679" y="52" width="1" height="3" fill="#089981"/>
<rect x="1677" y="55" width="5" height="44" fill="#089981"/>
<rect x="1685" y="51" width="1" height="4" fill="#f23645"/>
<rect x="1685" y="100" width="1" height="20" fill="#f23645"/>
<rect x="1683" y="55" width="5" height="45" fill="#f23645"/>
<rect x="1691" y="97" width="1" height="2" fill="#f23645"/>
<rect x="1691" y="122" width="1" height="4" fill="#f23645"/>
<rect x="1689" y="99" width="5" height="23" fill="#f23645"/>
<rect x="1698" y="98" width="1" height="21" fill="#089981"/>
<rect x="1698" y="123" width="1" height="4" fill="#089981"/>
<rect x="1696" y="119" width="5" height="4" fill="#089981"/>
<rect x="1704" y="118" width="1" height="1" fill="#f23645"/>
<rect x="1704" y="160" width="1" height="4" fill="#f23645"/>
<rect x="1702" y="119" width="5" height="41" fill="#f23645"/>
<rect x="1711" y="97" width="1" height="26" fill="#089981"/>
<rect x="1711" y="160" width="1" height="5" fill="#089981"/>
<rect x="1709" y="123" width="5" height="37" fill="#089981"/>
<rect x="1717" y="114" width="1" height="8" fill="#089981"/>
<rect x="1717" y="123" width="1" height="13" fill="#089981"/>
<rect x="1715" y="122" width="5" height="1" fill="#089981"/>
<rect x="1724" y="110" width="1" height="3" fill="#f23645"/>
<rect x="1724" y="114" width="1" height="20" fill="#f23645"/>
<rect x="1722" y="113" width="5" height="1" fill="#f23645"/>
<rect x="1730" y="111" width="1" height="3" fill="#f23645"/>
<rect x="1730" y="139" width="1" height="15" fill="#f23645"/>
<rect x="1728" y="114" width="5" height="25" fill="#f23645"/>
<rect x="1736" y="93" width="1" height="7" fill="#089981"/>
<rect x="1736" y="138" width="1" height="13" fill="#089981"/>
<rect x="1734" y="100" width="5" height="38" fill="#089981"/>
<rect x="1743" y="79" width="1" height="20" fill="#f23645"/>
<rect x="1743" y="135" width="1" height="1" fill="#f23645"/>
<rect x="1741" y="99" width="5" height="36" fill="#f23645"/>
<rect x="1749" y="116" width="1" height="18" fill="#f23645"/>
<rect x="1749" y="142" width="1" height="12" fill="#f23645"/>
<rect x="1747" y="134" width="5" height="8" fill="#f23645"/>
<rect x="1756" y="117" width="1" height="19" fill="#089981"/>
<rect x="1756" y="142" width="1" height="8" fill="#089981"/>
<rect x="1754" y="136" width="5" height="6" fill="#089981"/>
<rect x="1762" y="111" width="1" height="4" fill="#089981"/>
<rect x="1762" y="137" width="1" height="14" fill="#089981"/>
<rect x="1760" y="115" width="5" height="22" fill="#089981"/>
<rect x="1768" y="108" width="1" height="6" fill="#f23645"/>
<rect x="1768" y="115" width="1" height="23" fill="#f23645"/>
<rect x="1766" y="114" width="5" height="1" fill="#f23645"/>
<rect x="1775" y="98" width="1" height="17" fill="#f23645"/>
<rect x="1775" y="148" width="1" height="1" fill="#f23645"/>
<rect x="1773" y="115" width="5" height="33" fill="#f23645"/>
<rect x="1781" y="104" width="1" height="8" fill="#089981"/>
<rect x="1781" y="147" width="1" height="12" fill="#089981"/>
<rect x="1779" y="112" width="5" height="35" fill="#089981"/>
<rect x="1788" y="82" width="1" height="12" fill="#089981"/>
<rect x="1788" y="112" width="1" height="20" fill="#089981"/>
<rect x="1786" y="94" width="5" height="18" fill="#089981"/>
<rect x="1794" y="39" width="1" height="27" fill="#089981"/>
<rect x="1794" y="95" width="1" height="8" fill="#089981"/>
<rect x="1792" y="66" width="5" height="29" fill="#089981"/>
<rect x="1801" y="34" width="1" height="2" fill="#089981"/>
<rect x="1801" y="66" width="1" height="12" fill="#089981"/>
<rect x="1799" y="36" width="5" height="30" fill="#089981"/>
<rect x="1807" y="12" width="1" height="24" fill="#f23645"/>
<rect x="1807" y="65" width="1" height="1" fill="#f23645"/>
<rect x="1805" y="36" width="5" height="29" fill="#f23645"/>
<rect x="1813" y="48" width="1" height="16" fill="#f23645"/>
<rect x="1813" y="72" width="1" height="25" fill="#f23645"/>
<rect x="1811" y="64" width="5" height="8" fill="#f23645"/>
<rect x="1820" y="40" width="1" height="2" fill="#089981"/>
<rect x="1820" y="72" width="1" height="4" fill="#089981"/>
<rect x="1818" y="42" width="5" height="30" fill="#089981"/>
<rect x="1826" y="16" width="1" height="26" fill="#f23645"/>
<rect x="1824" y="42" width="5" height="17" fill="#f23645"/>
<rect x="1833" y="22" width="1" height="13" fill="#089981"/>
<rect x="1833" y="59" width="1" height="19" fill="#089981"/>
<rect x="1831" y="35" width="5" height="24" fill="#089981"/>
<rect x="1839" y="20" width="1" height="15" fill="#f23645"/>
<rect x="1839" y="62" width="1" height="15" fill="#f23645"/>
<rect x="1837" y="35" width="5" height="27" fill="#f23645"/>
<rect x="1845" y="31" width="1" height="6" fill="#089981"/>
<rect x="1845" y="62" width="1" height="3" fill="#089981"/>
<rect x="1843" y="37" width="5" height="25" fill="#089981"/>
<rect x="1852" y="35" width="1" height="2" fill="#f23645"/>
<rect x="1852" y="70" width="1" height="26" fill="#f23645"/>
<rect x="1850" y="37" width="5" height="33" fill="#f23645"/>
<rect x="1858" y="39" width="1" height="28" fill="#089981"/>
<rect x="1858" y="70" width="1" height="31" fill="#089981"/>
<rect x="1856" y="67" width="5" height="3" fill="#089981"/>
<rect x="1865" y="65" width="1" height="2" fill="#f23645"/>
<rect x="1865" y="68" width="1" height="32" fill="#f23645"/>
<rect x="1863" y="67" width="5" height="1" fill="#f23645"/>
<rect x="1871" y="50" width="1" height="12" fill="#089981"/>
<rect x="1871" y="68" width="1" height="4" fill="#089981"/>
<rect x="1869" y="62" width="5" height="6" fill="#089981"/>
<rect x="1878" y="70" width="1" height="14" fill="#089981"/>
<rect x="1878" y="91" width="1" height="4" fill="#089981"/>
<rect x="1876" y="84" width="5" height="7" fill="#089981"/>
<rect x="1884" y="44" width="1" height="5" fill="#089981"/>
<rect x="1884" y="85" width="1" height="2" fill="#089981"/>
<rect x="1882" y="49" width="5" height="36" fill="#089981"/>
<rect x="1890" y="31" width="1" height="18" fill="#f23645"/>
<rect x="1890" y="91" width="1" height="9" fill="#f23645"/>
<rect x="1888" y="49" width="5" height="42" fill="#f23645"/>
<rect x="1897" y="49" width="1" height="32" fill="#089981"/>
<rect x="1895" y="81" width="5" height="10" fill="#089981"/>
<rect x="1903" y="76" width="1" height="3" fill="#089981"/>
<rect x="1903" y="82" width="1" height="19" fill="#089981"/>
<rect x="1901" y="79" width="5" height="3" fill="#089981"/>
<rect x="1910" y="71" width="1" height="8" fill="#f23645"/>
<rect x="1910" y="114" width="1" height="5" fill="#f23645"/>
<rect x="1908" y="79" width="5" height="35" fill="#f23645"/>
<rect x="1916" y="110" width="1" height="3" fill="#f23645"/>
<rect x="1916" y="119" width="1" height="35" fill="#f23645"/>
<rect x="1914" y="113" width="5" height="6" fill="#f23645"/>
<rect x="1922" y="73" width="1" height="11" fill="#089981"/>
<rect x="1922" y="119" width="1" height="4" fill="#089981"/>
<rect x="1920" y="84" width="5" height="35" fill="#089981"/>
<rect x="1929" y="69" width="1" height="15" fill="#f23645"/>
<rect x="1929" y="109" width="1" height="9" fill="#f23645"/>
<rect x="1927" y="84" width="5" height="25" fill="#f23645"/>
<rect x="1935" y="100" width="1" height="4" fill="#089981"/>
<rect x="1935" y="109" width="1" height="32" fill="#089981"/>
<rect x="1933" y="104" width="5" height="5" fill="#089981"/>
<rect x="1942" y="101" width="1" height="2" fill="#f23645"/>
<rect x="1942" y="122" width="1" height="19" fill="#f23645"/>
<rect x="1940" y="103" width="5" height="19" fill="#f23645"/>
</g>
<line x1="0" y1="121.5" x2="2009" y2="121.5" stroke="#f23645" stroke-width="1" stroke-dasharray="1 2" shape-rendering="crispEdges"/>
<clipPath id="cc"><rect x="0" y="0" width="2009" height="1078"/></clipPath>
<line x1="254.4" y1="974.8" x2="2014" y2="205.2" stroke="#2962ff" stroke-width="3" clip-path="url(#cc)"/>
<circle cx="254.4" cy="974.8" r="13.5" fill="rgba(41,98,255,0.2)"/>
<circle cx="254.4" cy="974.8" r="8.7" fill="#fff" stroke="#2962ff" stroke-width="1.2"/>
<circle cx="1460.0" cy="447.4" r="8.7" fill="#fff" stroke="#2962ff" stroke-width="1.2"/>
<line x1="247.5" y1="0" x2="247.5" y2="1078" stroke="#909090" stroke-width="1" stroke-dasharray="5 6" stroke-dashoffset="7" shape-rendering="crispEdges"/>
<line x1="0" y1="972.5" x2="1976" y2="972.5" stroke="#909090" stroke-width="1" stroke-dasharray="5 6" shape-rendering="crispEdges"/>
<g transform="translate(18,1029.2) scale(1.286)"><g fill="#fff" stroke="#fff" stroke-width="4.6" stroke-linejoin="round"><path d="M14 22H7V11H0V4h14v18zM28 22h-8l7.5-18h8L28 22z"/><circle cx="20" cy="8" r="4"/><path d="M14 7H26L20 22H14Z"/></g><g fill="#131313"><path d="M14 22H7V11H0V4h14v18zM28 22h-8l7.5-18h8L28 22z"/><circle cx="20" cy="8" r="4"/></g></g>
<circle cx="1942.4" cy="1058.4" r="16.5" fill="#fff"/>
<circle cx="1942.4" cy="1058.4" r="14.5" fill="#fff" stroke="#9c27b0" stroke-width="2"/>
<path d="M1946.4 1050 L1947.9 1051.2 L1941.9 1057.1 L1949.8 1057.2 L1938.9 1066.7 L1937.1 1065.5 L1943.1 1060.1 L1935.2 1059.8Z" fill="#9c27b0"/>
<circle cx="1986.4" cy="1058.4" r="17.5" fill="#fff"/>
<circle cx="1986.4" cy="1058.4" r="15.3" fill="#fff" stroke="#f23645" stroke-width="2"/>
<clipPath id="fc"><circle cx="1986.4" cy="1058.4" r="12"/></clipPath>
<g clip-path="url(#fc)"><rect x="1974" y="1046" width="25" height="25" fill="#f5f7fb"/><rect x="1989" y="1046" width="12" height="5.6" fill="#ef5350"/><rect x="1989" y="1056.2" width="12" height="4.7" fill="#ef5350"/><rect x="1974" y="1065.2" width="25" height="6" fill="#ef5350"/><rect x="1974" y="1046" width="15" height="14.9" fill="#1e88e5"/></g>
<circle cx="1978.1" cy="1053.8" r="0.9" fill="#fff"/>
<circle cx="1978.1" cy="1057.8" r="0.9" fill="#fff"/>
<circle cx="1981.8" cy="1049.9" r="0.9" fill="#fff"/>
<circle cx="1981.8" cy="1053.8" r="0.9" fill="#fff"/>
<circle cx="1981.8" cy="1057.8" r="0.9" fill="#fff"/>
<circle cx="1985.8" cy="1049.9" r="0.9" fill="#fff"/>
<circle cx="1985.8" cy="1053.8" r="0.9" fill="#fff"/>
<circle cx="1985.8" cy="1057.8" r="0.9" fill="#fff"/>
<text x="12.90" y="23.8" font-size="20" fill="#131722" font-weight="normal" textLength="89.00" lengthAdjust="spacingAndGlyphs" font-family="Liberation Sans, sans-serif">Vol · Ticks</text>
<text x="113.90" y="23.8" font-size="20" fill="#ef5350" font-weight="normal" textLength="62.70" lengthAdjust="spacingAndGlyphs" font-family="Liberation Sans, sans-serif">13.92 K</text>
<rect x="14.5" y="40.5" width="41" height="29" rx="4" fill="#fff" stroke="#d9d9d9"/>
<path d="M29.4 57.6 L35.3 52.3 L41.2 57.6" fill="none" stroke="#000" stroke-width="1.7"/>
<text x="2023.49" y="13.9" font-size="18" fill="#131722" font-weight="normal" textLength="63.22" lengthAdjust="spacingAndGlyphs" font-family="Liberation Sans, sans-serif">158.000</text>
<text x="2023.49" y="192.9" font-size="18" fill="#131722" font-weight="normal" textLength="63.22" lengthAdjust="spacingAndGlyphs" font-family="Liberation Sans, sans-serif">157.000</text>
<text x="2023.49" y="264.9" font-size="18" fill="#131722" font-weight="normal" textLength="63.22" lengthAdjust="spacingAndGlyphs" font-family="Liberation Sans, sans-serif">156.600</text>
<text x="2023.49" y="336.9" font-size="18" fill="#131722" font-weight="normal" textLength="63.22" lengthAdjust="spacingAndGlyphs" font-family="Liberation Sans, sans-serif">156.200</text>
<text x="2023.49" y="408.9" font-size="18" fill="#131722" font-weight="normal" textLength="63.22" lengthAdjust="spacingAndGlyphs" font-family="Liberation Sans, sans-serif">155.800</text>
<text x="2023.49" y="481.9" font-size="18" fill="#131722" font-weight="normal" textLength="63.22" lengthAdjust="spacingAndGlyphs" font-family="Liberation Sans, sans-serif">155.400</text>
<text x="2023.49" y="553.9" font-size="18" fill="#131722" font-weight="normal" textLength="63.22" lengthAdjust="spacingAndGlyphs" font-family="Liberation Sans, sans-serif">155.000</text>
<text x="2023.49" y="626.9" font-size="18" fill="#131722" font-weight="normal" textLength="63.22" lengthAdjust="spacingAndGlyphs" font-family="Liberation Sans, sans-serif">154.600</text>
<text x="2023.49" y="681.9" font-size="18" fill="#131722" font-weight="normal" textLength="63.22" lengthAdjust="spacingAndGlyphs" font-family="Liberation Sans, sans-serif">154.300</text>
<text x="2023.49" y="736.9" font-size="18" fill="#131722" font-weight="normal" textLength="63.22" lengthAdjust="spacingAndGlyphs" font-family="Liberation Sans, sans-serif">154.000</text>
<text x="2023.49" y="790.9" font-size="18" fill="#131722" font-weight="normal" textLength="63.22" lengthAdjust="spacingAndGlyphs" font-family="Liberation Sans, sans-serif">153.700</text>
<text x="2023.49" y="846.9" font-size="18" fill="#131722" font-weight="normal" textLength="63.22" lengthAdjust="spacingAndGlyphs" font-family="Liberation Sans, sans-serif">153.400</text>
<text x="2023.49" y="891.9" font-size="18" fill="#131722" font-weight="normal" textLength="63.22" lengthAdjust="spacingAndGlyphs" font-family="Liberation Sans, sans-serif">153.150</text>
<text x="2023.49" y="937.9" font-size="18" fill="#131722" font-weight="normal" textLength="63.22" lengthAdjust="spacingAndGlyphs" font-family="Liberation Sans, sans-serif">152.900</text>
<text x="2023.49" y="1030.9" font-size="18" fill="#131722" font-weight="normal" textLength="63.22" lengthAdjust="spacingAndGlyphs" font-family="Liberation Sans, sans-serif">152.400</text>
<text x="2023.49" y="1078.9" font-size="18" fill="#131722" font-weight="normal" textLength="63.22" lengthAdjust="spacingAndGlyphs" font-family="Liberation Sans, sans-serif">152.140</text>
<path d="M1973 83 H2009 V110 H1973 Q1970 110 1970 107 V86 Q1970 83 1973 83Z" fill="#f3525f"/>
<path d="M2010 83 H2091 Q2094 83 2094 86 V110 H2010Z" fill="#f3525f"/>
<rect x="2010" y="110" width="84" height="45" fill="#f23645"/>
<path d="M1974 155 H2009 V182 H1974 Q1971 182 1971 179 V158 Q1971 155 1974 155Z" fill="#2962ff"/>
<path d="M2010 155 H2094 V179 Q2094 182 2091 182 H2010Z" fill="#2962ff"/>
<text x="1974.01" y="103" font-size="17.5" fill="#fff" font-weight="bold" textLength="28.68" lengthAdjust="spacingAndGlyphs" font-family="Liberation Sans, sans-serif">Ask</text>
<text x="2023.21" y="103" font-size="17.5" fill="#fff" font-weight="bold" textLength="63.77" lengthAdjust="spacingAndGlyphs" font-family="Liberation Sans, sans-serif">157.374</text>
<text x="2023.21" y="127.7" font-size="17.5" fill="#fff" font-weight="bold" textLength="63.77" lengthAdjust="spacingAndGlyphs" font-family="Liberation Sans, sans-serif">157.364</text>
<text x="2022.11" y="149" font-size="17.5" fill="rgba(255,255,255,0.8)" font-weight="bold" textLength="46.08" lengthAdjust="spacingAndGlyphs" font-family="Liberation Sans, sans-serif">40:54</text>
<text x="1976.21" y="174.7" font-size="17.5" fill="#fff" font-weight="bold" textLength="25.98" lengthAdjust="spacingAndGlyphs" font-family="Liberation Sans, sans-serif">Bid</text>
<text x="2023.21" y="174.7" font-size="17.5" fill="#fff" font-weight="bold" textLength="63.77" lengthAdjust="spacingAndGlyphs" font-family="Liberation Sans, sans-serif">157.355</text>
<path d="M1978.5 956 H2009 V989 H1978.5 Q1976 989 1976 986.5 V958.5 Q1976 956 1978.5 956Z" fill="#131313"/>
<path d="M2010 956 H2091.5 Q2094 956 2094 958.5 V986.5 Q2094 989 2091.5 989 H2010Z" fill="#131313"/>
<circle cx="1992.4" cy="972.3" r="11" fill="none" stroke="#d1d4dc" stroke-width="1"/>
<path d="M1986 972.3 H1999 M1992.4 966 V979" stroke="#fff" stroke-width="1.2"/>
<text x="2023.01" y="978.9" font-size="17.5" fill="#fff" font-weight="bold" textLength="63.28" lengthAdjust="spacingAndGlyphs" font-family="Liberation Sans, sans-serif">152.677</text>
<path d="M2010 1028 H2076.5 Q2079 1028 2079 1030.5 V1052.5 Q2079 1055 2076.5 1055 H2010Z" fill="#ef5350"/>
<text x="2022.71" y="1047" font-size="17.5" fill="#fff" font-weight="normal" textLength="49.08" lengthAdjust="spacingAndGlyphs" font-family="Liberation Sans, sans-serif">5.82 K</text>
<text x="443.95" y="1106" font-size="18" fill="#131722" font-weight="normal" textLength="19.22" lengthAdjust="spacingAndGlyphs" font-family="Liberation Sans, sans-serif">19</text>
<text x="597.89" y="1106" font-size="18" fill="#131722" font-weight="normal" textLength="19.42" lengthAdjust="spacingAndGlyphs" font-family="Liberation Sans, sans-serif">20</text>
<text x="752.02" y="1106" font-size="18" fill="#131722" font-weight="normal" textLength="19.22" lengthAdjust="spacingAndGlyphs" font-family="Liberation Sans, sans-serif">21</text>
<text x="905.95" y="1106" font-size="18" fill="#131722" font-weight="normal" textLength="19.42" lengthAdjust="spacingAndGlyphs" font-family="Liberation Sans, sans-serif">24</text>
<text x="1059.98" y="1106" font-size="18" fill="#131722" font-weight="normal" textLength="19.42" lengthAdjust="spacingAndGlyphs" font-family="Liberation Sans, sans-serif">25</text>
<text x="1214.01" y="1106" font-size="18" fill="#131722" font-weight="normal" textLength="19.42" lengthAdjust="spacingAndGlyphs" font-family="Liberation Sans, sans-serif">26</text>
<text x="1368.05" y="1106" font-size="18" fill="#131722" font-weight="normal" textLength="19.42" lengthAdjust="spacingAndGlyphs" font-family="Liberation Sans, sans-serif">27</text>
<text x="1554.84" y="1106" font-size="18" fill="#131722" font-weight="normal" textLength="30.92" lengthAdjust="spacingAndGlyphs" font-family="Liberation Sans, sans-serif">Mar</text>
<text x="1680.86" y="1106" font-size="18" fill="#131722" font-weight="normal" textLength="9.92" lengthAdjust="spacingAndGlyphs" font-family="Liberation Sans, sans-serif">3</text>
<text x="1834.54" y="1106" font-size="18" fill="#131722" font-weight="normal" textLength="10.62" lengthAdjust="spacingAndGlyphs" font-family="Liberation Sans, sans-serif">4</text>
<text x="1989.07" y="1106" font-size="18" fill="#131722" font-weight="normal" textLength="9.62" lengthAdjust="spacingAndGlyphs" font-family="Liberation Sans, sans-serif">5</text>
<text x="135.39" y="1106" font-size="18" fill="#131722" font-weight="normal" textLength="17.42" lengthAdjust="spacingAndGlyphs" font-family="Liberation Sans, sans-serif">17</text>
<path d="M146 1078 H347 V1111.6 Q347 1113.6 345 1113.6 H148 Q146 1113.6 146 1111.6Z" fill="#131313"/>
<text x="159.29" y="1105.9" font-size="18" fill="#fff" font-weight="bold" textLength="115.02" lengthAdjust="spacingAndGlyphs" font-family="Liberation Sans, sans-serif">Tue 17 Feb '26</text>
<text x="289.69" y="1105.9" font-size="18" fill="#fff" font-weight="bold" textLength="45.42" lengthAdjust="spacingAndGlyphs" font-family="Liberation Sans, sans-serif">16:00</text>
<path d="M2045.7 1099.7 L2050.8 1090.8 H2061.8 L2066.8 1099.7 L2061.8 1108.6 H2050.8Z" fill="none" stroke="#131722" stroke-width="1.4" stroke-linejoin="miter"/>
<circle cx="2056.3" cy="1099.7" r="2.9" fill="none" stroke="#131722" stroke-width="1.3"/>
<rect x="0" y="1120" width="2100" height="1" fill="#e5e5e5"/>
<text x="20.80" y="1156.6" font-size="20" fill="#131722" font-weight="normal" textLength="24.70" lengthAdjust="spacingAndGlyphs" font-family="Liberation Sans, sans-serif">1D</text>
<text x="62.60" y="1156.6" font-size="20" fill="#131722" font-weight="normal" textLength="25.20" lengthAdjust="spacingAndGlyphs" font-family="Liberation Sans, sans-serif">5D</text>
<text x="105.40" y="1156.6" font-size="20" fill="#131722" font-weight="normal" textLength="26.20" lengthAdjust="spacingAndGlyphs" font-family="Liberation Sans, sans-serif">1M</text>
<text x="148.80" y="1156.6" font-size="20" fill="#131722" font-weight="normal" textLength="27.00" lengthAdjust="spacingAndGlyphs" font-family="Liberation Sans, sans-serif">3M</text>
<text x="192.20" y="1156.6" font-size="20" fill="#131722" font-weight="normal" textLength="27.70" lengthAdjust="spacingAndGlyphs" font-family="Liberation Sans, sans-serif">6M</text>
<text x="235.70" y="1156.6" font-size="20" fill="#131722" font-weight="normal" textLength="38.30" lengthAdjust="spacingAndGlyphs" font-family="Liberation Sans, sans-serif">YTD</text>
<text x="291.70" y="1156.6" font-size="20" fill="#131722" font-weight="normal" textLength="24.20" lengthAdjust="spacingAndGlyphs" font-family="Liberation Sans, sans-serif">1Y</text>
<text x="332.40" y="1156.6" font-size="20" fill="#131722" font-weight="normal" textLength="23.90" lengthAdjust="spacingAndGlyphs" font-family="Liberation Sans, sans-serif">5Y</text>
<text x="372.80" y="1156.6" font-size="20" fill="#131722" font-weight="normal" textLength="25.80" lengthAdjust="spacingAndGlyphs" font-family="Liberation Sans, sans-serif">All</text>
<rect x="413.4" y="1133" width="1.2" height="33.6" fill="#e6e6e6"/>
<g fill="none" stroke="#000" stroke-width="1.5"><path d="M436.2 1148 V1141.5 Q436.2 1138.7 439 1138.7 H458.8 Q461.6 1138.7 461.6 1141.5 V1158.4 Q461.6 1161.2 458.8 1161.2 H449.3"/><path d="M436.2 1144.8 H461.6"/><path d="M443.6 1135.2 V1140.3 M454.3 1135.2 V1140.3"/><path d="M434.3 1156.6 H445.5 M440.2 1151.4 L445.5 1156.6 L440.2 1161.9"/></g>
<text x="1939.18" y="1157" font-size="20.5" fill="#131722" font-weight="normal" textLength="147.55" lengthAdjust="spacingAndGlyphs" font-family="Liberation Sans, sans-serif">16:19:07 UTC+8</text>
</svg>
</body></html>
